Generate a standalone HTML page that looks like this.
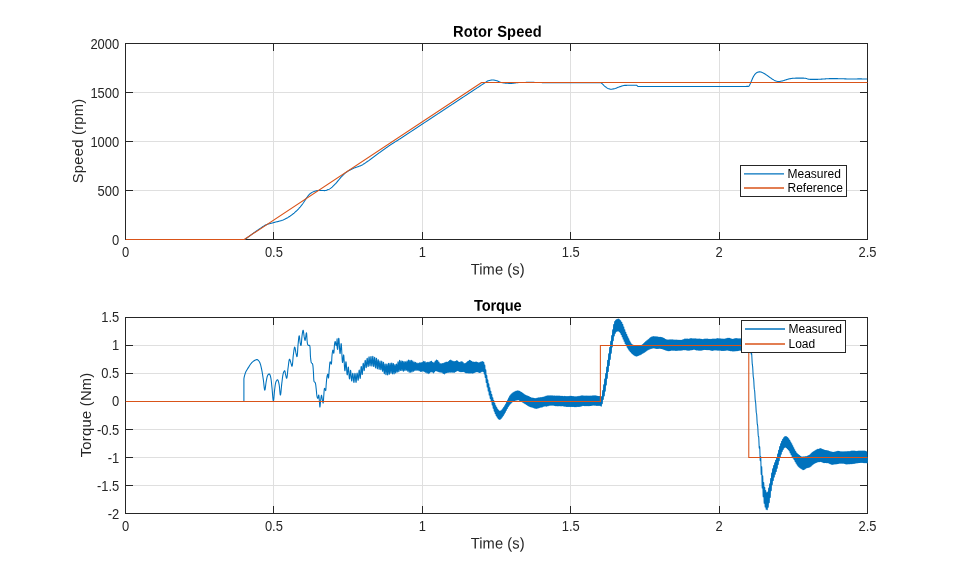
<!DOCTYPE html>
<html><head><meta charset="utf-8">
<title>Rotor Speed and Torque</title>
<style>
html,body{margin:0;padding:0;background:#fff;}
body{width:959px;height:577px;overflow:hidden;font-family:"Liberation Sans",sans-serif;}
svg{display:block;}
text{font-family:"Liberation Sans",sans-serif;fill:#262626;filter:grayscale(1);}
.tk{font-size:14px;}
.lb{font-size:14.67px;letter-spacing:0.2px;}
.yl{letter-spacing:0.3px;}
.ti{font-size:14.67px;font-weight:bold;fill:#000;letter-spacing:0.16px;}
.lg{font-size:12px;fill:#000;filter:grayscale(1);}
</style></head><body>
<svg width="959" height="577">
<rect width="959" height="577" fill="#fff"/>
<defs>
<clipPath id="c1"><rect x="125.5" y="43.0" width="742.5" height="197.0"/></clipPath>
<clipPath id="c2"><rect x="125.5" y="317.0" width="742.5" height="197.0"/></clipPath>
</defs>
<g shape-rendering="crispEdges">
<line x1="273.9" y1="43.5" x2="273.9" y2="239.5" stroke="#DFDFDF" stroke-width="1"/>
<line x1="422.3" y1="43.5" x2="422.3" y2="239.5" stroke="#DFDFDF" stroke-width="1"/>
<line x1="570.7" y1="43.5" x2="570.7" y2="239.5" stroke="#DFDFDF" stroke-width="1"/>
<line x1="719.1" y1="43.5" x2="719.1" y2="239.5" stroke="#DFDFDF" stroke-width="1"/>
<line x1="125.5" y1="190.5" x2="867.5" y2="190.5" stroke="#DFDFDF" stroke-width="1"/>
<line x1="125.5" y1="141.5" x2="867.5" y2="141.5" stroke="#DFDFDF" stroke-width="1"/>
<line x1="125.5" y1="92.5" x2="867.5" y2="92.5" stroke="#DFDFDF" stroke-width="1"/>
<line x1="273.9" y1="317.5" x2="273.9" y2="513.5" stroke="#DFDFDF" stroke-width="1"/>
<line x1="422.3" y1="317.5" x2="422.3" y2="513.5" stroke="#DFDFDF" stroke-width="1"/>
<line x1="570.7" y1="317.5" x2="570.7" y2="513.5" stroke="#DFDFDF" stroke-width="1"/>
<line x1="719.1" y1="317.5" x2="719.1" y2="513.5" stroke="#DFDFDF" stroke-width="1"/>
<line x1="125.5" y1="485.5" x2="867.5" y2="485.5" stroke="#DFDFDF" stroke-width="1"/>
<line x1="125.5" y1="457.5" x2="867.5" y2="457.5" stroke="#DFDFDF" stroke-width="1"/>
<line x1="125.5" y1="429.5" x2="867.5" y2="429.5" stroke="#DFDFDF" stroke-width="1"/>
<line x1="125.5" y1="401.5" x2="867.5" y2="401.5" stroke="#DFDFDF" stroke-width="1"/>
<line x1="125.5" y1="373.5" x2="867.5" y2="373.5" stroke="#DFDFDF" stroke-width="1"/>
<line x1="125.5" y1="345.5" x2="867.5" y2="345.5" stroke="#DFDFDF" stroke-width="1"/>
<rect x="125.5" y="43.5" width="742.0" height="196.0" fill="none" stroke="#262626" stroke-width="1"/>
<line x1="273.9" y1="239.5" x2="273.9" y2="232.0" stroke="#262626"/>
<line x1="273.9" y1="43.5" x2="273.9" y2="51.0" stroke="#262626"/>
<line x1="422.3" y1="239.5" x2="422.3" y2="232.0" stroke="#262626"/>
<line x1="422.3" y1="43.5" x2="422.3" y2="51.0" stroke="#262626"/>
<line x1="570.7" y1="239.5" x2="570.7" y2="232.0" stroke="#262626"/>
<line x1="570.7" y1="43.5" x2="570.7" y2="51.0" stroke="#262626"/>
<line x1="719.1" y1="239.5" x2="719.1" y2="232.0" stroke="#262626"/>
<line x1="719.1" y1="43.5" x2="719.1" y2="51.0" stroke="#262626"/>
<line x1="125.5" y1="190.5" x2="133.0" y2="190.5" stroke="#262626"/>
<line x1="867.5" y1="190.5" x2="860.0" y2="190.5" stroke="#262626"/>
<line x1="125.5" y1="141.5" x2="133.0" y2="141.5" stroke="#262626"/>
<line x1="867.5" y1="141.5" x2="860.0" y2="141.5" stroke="#262626"/>
<line x1="125.5" y1="92.5" x2="133.0" y2="92.5" stroke="#262626"/>
<line x1="867.5" y1="92.5" x2="860.0" y2="92.5" stroke="#262626"/>
<rect x="125.5" y="317.5" width="742.0" height="196.0" fill="none" stroke="#262626" stroke-width="1"/>
<line x1="273.9" y1="513.5" x2="273.9" y2="506.0" stroke="#262626"/>
<line x1="273.9" y1="317.5" x2="273.9" y2="325.0" stroke="#262626"/>
<line x1="422.3" y1="513.5" x2="422.3" y2="506.0" stroke="#262626"/>
<line x1="422.3" y1="317.5" x2="422.3" y2="325.0" stroke="#262626"/>
<line x1="570.7" y1="513.5" x2="570.7" y2="506.0" stroke="#262626"/>
<line x1="570.7" y1="317.5" x2="570.7" y2="325.0" stroke="#262626"/>
<line x1="719.1" y1="513.5" x2="719.1" y2="506.0" stroke="#262626"/>
<line x1="719.1" y1="317.5" x2="719.1" y2="325.0" stroke="#262626"/>
<line x1="125.5" y1="485.5" x2="133.0" y2="485.5" stroke="#262626"/>
<line x1="867.5" y1="485.5" x2="860.0" y2="485.5" stroke="#262626"/>
<line x1="125.5" y1="457.5" x2="133.0" y2="457.5" stroke="#262626"/>
<line x1="867.5" y1="457.5" x2="860.0" y2="457.5" stroke="#262626"/>
<line x1="125.5" y1="429.5" x2="133.0" y2="429.5" stroke="#262626"/>
<line x1="867.5" y1="429.5" x2="860.0" y2="429.5" stroke="#262626"/>
<line x1="125.5" y1="401.5" x2="133.0" y2="401.5" stroke="#262626"/>
<line x1="867.5" y1="401.5" x2="860.0" y2="401.5" stroke="#262626"/>
<line x1="125.5" y1="373.5" x2="133.0" y2="373.5" stroke="#262626"/>
<line x1="867.5" y1="373.5" x2="860.0" y2="373.5" stroke="#262626"/>
<line x1="125.5" y1="345.5" x2="133.0" y2="345.5" stroke="#262626"/>
<line x1="867.5" y1="345.5" x2="860.0" y2="345.5" stroke="#262626"/>
</g>
<g fill="none" stroke-linejoin="round" stroke-width="1.08">
<g clip-path="url(#c1)">
<polyline stroke="#0072BD" points="244.60,239.50 245.10,239.20 245.60,238.87 246.10,238.54 246.60,238.19 247.10,237.83 247.60,237.47 248.10,237.10 248.60,236.73 249.10,236.35 249.60,235.98 250.10,235.60 250.60,235.22 251.10,234.85 251.60,234.49 252.10,234.13 252.60,233.77 253.10,233.41 253.60,233.05 254.10,232.69 254.60,232.33 255.10,231.97 255.60,231.61 256.10,231.26 256.60,230.91 257.10,230.56 257.60,230.21 258.10,229.87 258.60,229.53 259.10,229.20 259.60,228.87 260.10,228.53 260.60,228.18 261.10,227.83 261.60,227.49 262.10,227.15 262.60,226.81 263.10,226.48 263.60,226.16 264.10,225.86 264.60,225.57 265.10,225.30 265.60,225.05 266.10,224.82 266.60,224.62 267.10,224.44 267.60,224.27 268.10,224.10 268.60,223.95 269.10,223.81 269.60,223.67 270.10,223.54 270.60,223.41 271.10,223.28 271.60,223.15 272.10,223.03 272.60,222.90 273.10,222.76 273.60,222.63 274.10,222.49 274.60,222.36 275.10,222.23 275.60,222.10 276.10,221.98 276.60,221.85 277.10,221.73 277.60,221.61 278.10,221.49 278.60,221.36 279.10,221.24 279.60,221.10 280.10,220.97 280.60,220.82 281.10,220.67 281.60,220.52 282.10,220.35 282.60,220.17 283.10,219.99 283.60,219.78 284.10,219.57 284.60,219.33 285.10,219.09 285.60,218.83 286.10,218.56 286.60,218.28 287.10,217.99 287.60,217.69 288.10,217.39 288.60,217.07 289.10,216.75 289.60,216.43 290.10,216.10 290.60,215.76 291.10,215.41 291.60,215.05 292.10,214.67 292.60,214.28 293.10,213.88 293.60,213.47 294.10,213.05 294.60,212.61 295.10,212.17 295.60,211.71 296.10,211.25 296.60,210.78 297.10,210.30 297.60,209.80 298.10,209.29 298.60,208.77 299.10,208.22 299.60,207.66 300.10,207.09 300.60,206.49 301.10,205.88 301.60,205.26 302.10,204.62 302.60,203.97 303.10,203.29 303.60,202.55 304.10,201.77 304.60,200.96 305.10,200.15 305.60,199.37 306.10,198.62 306.60,197.93 307.10,197.23 307.60,196.54 308.10,195.87 308.60,195.23 309.10,194.64 309.60,194.13 310.10,193.70 310.60,193.34 311.10,192.99 311.60,192.67 312.10,192.38 312.60,192.11 313.10,191.86 313.60,191.65 314.10,191.46 314.60,191.30 315.10,191.16 315.60,191.02 316.10,190.88 316.60,190.75 317.10,190.64 317.60,190.55 318.10,190.47 318.60,190.42 319.10,190.40 319.60,190.40 320.10,190.41 320.60,190.43 321.10,190.46 321.60,190.48 322.10,190.51 322.60,190.54 323.10,190.56 323.60,190.58 324.10,190.60 324.60,190.60 325.10,190.57 325.60,190.50 326.10,190.38 326.60,190.22 327.10,190.04 327.60,189.83 328.10,189.61 328.60,189.38 329.10,189.15 329.60,188.90 330.10,188.61 330.60,188.27 331.10,187.90 331.60,187.49 332.10,187.06 332.60,186.61 333.10,186.14 333.60,185.66 334.10,185.18 334.60,184.70 335.10,184.20 335.60,183.68 336.10,183.12 336.60,182.54 337.10,181.94 337.60,181.33 338.10,180.71 338.60,180.09 339.10,179.47 339.60,178.87 340.10,178.29 340.60,177.73 341.10,177.20 341.60,176.67 342.10,176.15 342.60,175.63 343.10,175.11 343.60,174.61 344.10,174.12 344.60,173.65 345.10,173.20 345.60,172.78 346.10,172.39 346.60,172.03 347.10,171.70 347.60,171.37 348.10,171.07 348.60,170.77 349.10,170.49 349.60,170.21 350.10,169.95 350.60,169.69 351.10,169.44 351.60,169.20 352.10,168.97 352.60,168.74 353.10,168.51 353.60,168.29 354.10,168.07 354.60,167.87 355.10,167.67 355.60,167.49 356.10,167.32 356.60,167.14 357.10,166.98 357.60,166.81 358.10,166.64 358.60,166.47 359.10,166.29 359.60,166.10 360.10,165.90 360.60,165.68 361.10,165.45 361.60,165.21 362.10,164.94 362.60,164.66 363.10,164.37 363.60,164.06 364.10,163.75 364.60,163.43 365.10,163.09 365.60,162.76 366.10,162.41 366.60,162.07 367.10,161.72 367.60,161.38 368.10,161.04 368.60,160.69 369.10,160.35 369.60,159.99 370.10,159.63 370.60,159.26 371.10,158.89 371.60,158.51 372.10,158.13 372.60,157.75 373.10,157.38 373.60,157.00 374.10,156.62 374.60,156.24 375.10,155.87 375.60,155.50 376.10,155.13 376.60,154.77 377.10,154.40 377.60,154.04 378.10,153.67 378.60,153.31 379.10,152.94 379.60,152.58 380.10,152.22 380.60,151.85 381.10,151.49 381.60,151.13 382.10,150.77 382.60,150.41 383.10,150.06 383.60,149.70 384.10,149.34 384.60,148.98 385.10,148.62 385.60,148.27 386.10,147.91 386.60,147.55 387.10,147.20 387.60,146.85 388.10,146.50 388.60,146.15 389.10,145.81 389.60,145.47 390.10,145.13 390.60,144.80 391.10,144.47 391.60,144.14 392.10,143.82 392.60,143.50 393.10,143.18 393.60,142.87 394.10,142.55 394.60,142.24 395.10,141.92 395.60,141.61 396.10,141.30 396.60,140.98 397.10,140.67 397.60,140.36 398.10,140.04 398.60,139.72 399.10,139.41 399.60,139.09 400.10,138.76 400.60,138.44 401.10,138.11 401.60,137.78 402.10,137.45 402.60,137.13 403.10,136.80 403.60,136.47 404.10,136.14 404.60,135.80 405.10,135.47 405.60,135.14 406.10,134.81 406.60,134.48 407.10,134.14 407.60,133.81 408.10,133.48 408.60,133.15 409.10,132.82 409.60,132.49 410.10,132.16 410.60,131.83 411.10,131.50 411.60,131.17 412.10,130.84 412.60,130.51 413.10,130.18 413.60,129.85 414.10,129.52 414.60,129.18 415.10,128.85 415.60,128.52 416.10,128.19 416.60,127.86 417.10,127.53 417.60,127.20 418.10,126.87 418.60,126.54 419.10,126.21 419.60,125.88 420.10,125.55 420.60,125.22 421.10,124.89 421.60,124.56 422.10,124.23 422.60,123.90 423.10,123.57 423.60,123.24 424.10,122.91 424.60,122.58 425.10,122.25 425.60,121.92 426.10,121.59 426.60,121.26 427.10,120.93 427.60,120.60 428.10,120.27 428.60,119.94 429.10,119.61 429.60,119.28 430.10,118.95 430.60,118.62 431.10,118.29 431.60,117.96 432.10,117.63 432.60,117.30 433.10,116.97 433.60,116.64 434.10,116.31 434.60,115.98 435.10,115.65 435.60,115.32 436.10,114.99 436.60,114.66 437.10,114.33 437.60,114.00 438.10,113.67 438.60,113.34 439.10,113.01 439.60,112.68 440.10,112.35 440.60,112.02 441.10,111.68 441.60,111.35 442.10,111.02 442.60,110.69 443.10,110.36 443.60,110.03 444.10,109.70 444.60,109.37 445.10,109.04 445.60,108.71 446.10,108.38 446.60,108.05 447.10,107.72 447.60,107.39 448.10,107.06 448.60,106.73 449.10,106.40 449.60,106.07 450.10,105.74 450.60,105.41 451.10,105.08 451.60,104.75 452.10,104.42 452.60,104.09 453.10,103.76 453.60,103.43 454.10,103.10 454.60,102.77 455.10,102.44 455.60,102.11 456.10,101.78 456.60,101.45 457.10,101.12 457.60,100.79 458.10,100.46 458.60,100.13 459.10,99.80 459.60,99.47 460.10,99.14 460.60,98.81 461.10,98.48 461.60,98.15 462.10,97.82 462.60,97.49 463.10,97.16 463.60,96.83 464.10,96.50 464.60,96.17 465.10,95.84 465.60,95.51 466.10,95.18 466.60,94.85 467.10,94.52 467.60,94.18 468.10,93.85 468.60,93.52 469.10,93.19 469.60,92.86 470.10,92.53 470.60,92.20 471.10,91.87 471.60,91.55 472.10,91.22 472.60,90.89 473.10,90.56 473.60,90.23 474.10,89.90 474.60,89.57 475.10,89.24 475.60,88.91 476.10,88.58 476.60,88.25 477.10,87.92 477.60,87.59 478.10,87.26 478.60,86.93 479.10,86.60 479.60,86.26 480.10,85.93 480.60,85.59 481.10,85.25 481.60,84.92 482.10,84.59 482.60,84.27 483.10,83.96 483.60,83.64 484.10,83.31 484.60,82.98 485.10,82.66 485.60,82.34 486.10,81.99 486.60,81.64 487.10,81.32 487.60,81.04 488.10,80.83 488.60,80.68 489.10,80.54 489.60,80.41 490.10,80.30 490.60,80.19 491.10,80.11 491.60,80.05 492.10,80.01 492.60,80.00 493.10,80.02 493.60,80.07 494.10,80.14 494.60,80.23 495.10,80.34 495.60,80.45 496.10,80.57 496.60,80.70 497.10,80.83 497.60,80.99 498.10,81.19 498.60,81.42 499.10,81.66 499.60,81.89 500.10,82.11 500.60,82.29 501.10,82.42 501.60,82.54 502.10,82.64 502.60,82.74 503.10,82.84 503.60,82.92 504.10,83.00 504.60,83.07 505.10,83.12 505.60,83.17 506.10,83.21 506.60,83.24 507.10,83.27 507.60,83.30 508.10,83.32 508.60,83.34 509.10,83.36 509.60,83.38 510.10,83.39 510.60,83.40 511.10,83.40 511.60,83.38 512.10,83.35 512.60,83.30 513.10,83.25 513.60,83.18 514.10,83.11 514.60,83.05 515.10,82.99 515.60,82.92 516.10,82.84 516.60,82.75 517.10,82.68 517.60,82.62 518.10,82.60 518.60,82.58 519.10,82.57 519.60,82.56 520.10,82.55 520.60,82.55 521.10,82.54 521.60,82.54 522.10,82.53 522.60,82.53 523.10,82.52 523.60,82.51 524.10,82.50 524.60,82.48 525.10,82.46 525.60,82.43 526.10,82.39 526.60,82.36 527.10,82.32 527.60,82.29 528.10,82.26 528.60,82.24 529.10,82.22 529.60,82.20 530.10,82.20 530.60,82.21 531.10,82.22 531.60,82.25 532.10,82.28 532.60,82.31 533.10,82.34 533.60,82.38 534.10,82.41 534.60,82.44 535.10,82.47 535.60,82.49 536.10,82.50 536.60,82.51 537.10,82.52 537.60,82.53 538.10,82.54 538.60,82.55 539.10,82.55 539.60,82.56 540.10,82.57 540.60,82.57 541.10,82.58 541.60,82.58 542.10,82.59 542.60,82.59 543.10,82.59 543.60,82.60 544.10,82.60 544.60,82.60 545.10,82.60 545.60,82.60 546.10,82.60 546.60,82.60 547.10,82.60 547.60,82.60 548.10,82.60 548.60,82.60 549.10,82.60 549.60,82.60 550.10,82.60 550.60,82.60 551.10,82.60 551.60,82.60 552.10,82.60 552.60,82.60 553.10,82.60 553.60,82.60 554.10,82.60 554.60,82.60 555.10,82.60 555.60,82.60 556.10,82.60 556.60,82.60 557.10,82.60 557.60,82.60 558.10,82.60 558.60,82.60 559.10,82.60 559.60,82.60 560.10,82.60 560.60,82.60 561.10,82.60 561.60,82.60 562.10,82.60 562.60,82.60 563.10,82.60 563.60,82.60 564.10,82.60 564.60,82.60 565.10,82.60 565.60,82.60 566.10,82.60 566.60,82.60 567.10,82.60 567.60,82.60 568.10,82.60 568.60,82.60 569.10,82.60 569.60,82.60 570.10,82.60 570.60,82.60 571.10,82.60 571.60,82.60 572.10,82.60 572.60,82.60 573.10,82.60 573.60,82.60 574.10,82.60 574.60,82.60 575.10,82.60 575.60,82.60 576.10,82.60 576.60,82.60 577.10,82.60 577.60,82.60 578.10,82.60 578.60,82.60 579.10,82.60 579.60,82.60 580.10,82.60 580.60,82.60 581.10,82.60 581.60,82.60 582.10,82.60 582.60,82.60 583.10,82.60 583.60,82.60 584.10,82.60 584.60,82.60 585.10,82.60 585.60,82.60 586.10,82.60 586.60,82.60 587.10,82.60 587.60,82.60 588.10,82.60 588.60,82.60 589.10,82.60 589.60,82.60 590.10,82.60 590.60,82.60 591.10,82.60 591.60,82.60 592.10,82.60 592.60,82.60 593.10,82.60 593.60,82.60 594.10,82.60 594.60,82.60 595.10,82.60 595.60,82.60 596.10,82.60 596.60,82.60 597.10,82.60 597.60,82.60 598.10,82.60 598.60,82.60 599.10,82.60 599.60,82.60 600.10,82.60 600.60,82.63 601.10,82.88 601.60,83.28 602.10,83.68 602.60,84.10 603.10,84.58 603.60,85.09 604.10,85.59 604.60,86.06 605.10,86.48 605.60,86.87 606.10,87.25 606.60,87.62 607.10,87.94 607.60,88.22 608.10,88.44 608.60,88.64 609.10,88.82 609.60,88.99 610.10,89.11 610.60,89.19 611.10,89.20 611.60,89.17 612.10,89.12 612.60,89.05 613.10,88.97 613.60,88.87 614.10,88.78 614.60,88.66 615.10,88.51 615.60,88.34 616.10,88.14 616.60,87.94 617.10,87.74 617.60,87.55 618.10,87.36 618.60,87.18 619.10,87.00 619.60,86.81 620.10,86.63 620.60,86.45 621.10,86.27 621.60,86.12 622.10,85.97 622.60,85.83 623.10,85.68 623.60,85.55 624.10,85.45 624.60,85.40 625.10,85.38 625.60,85.37 626.10,85.35 626.60,85.34 627.10,85.33 627.60,85.32 628.10,85.31 628.60,85.31 629.10,85.30 629.60,85.30 630.10,85.30 630.60,85.30 631.10,85.30 631.60,85.30 632.10,85.30 632.60,85.30 633.10,85.30 633.60,85.30 634.10,85.30 634.60,85.30 635.10,85.30 635.60,85.30 636.10,85.30 636.60,85.30 637.10,85.60 637.60,86.30 638.10,86.42 638.60,86.48 639.10,86.50 639.60,86.50 640.10,86.50 640.60,86.50 641.10,86.50 641.60,86.50 642.10,86.50 642.60,86.50 643.10,86.50 643.60,86.50 644.10,86.50 644.60,86.50 645.10,86.50 645.60,86.50 646.10,86.50 646.60,86.50 647.10,86.50 647.60,86.50 648.10,86.50 648.60,86.50 649.10,86.50 649.60,86.50 650.10,86.50 650.60,86.50 651.10,86.50 651.60,86.50 652.10,86.50 652.60,86.50 653.10,86.50 653.60,86.50 654.10,86.50 654.60,86.50 655.10,86.50 655.60,86.50 656.10,86.50 656.60,86.50 657.10,86.50 657.60,86.50 658.10,86.50 658.60,86.50 659.10,86.50 659.60,86.50 660.10,86.50 660.60,86.50 661.10,86.50 661.60,86.50 662.10,86.50 662.60,86.50 663.10,86.50 663.60,86.50 664.10,86.50 664.60,86.50 665.10,86.50 665.60,86.50 666.10,86.50 666.60,86.50 667.10,86.50 667.60,86.50 668.10,86.50 668.60,86.50 669.10,86.50 669.60,86.50 670.10,86.50 670.60,86.50 671.10,86.50 671.60,86.50 672.10,86.50 672.60,86.50 673.10,86.50 673.60,86.50 674.10,86.50 674.60,86.50 675.10,86.50 675.60,86.50 676.10,86.50 676.60,86.50 677.10,86.50 677.60,86.50 678.10,86.50 678.60,86.50 679.10,86.50 679.60,86.50 680.10,86.50 680.60,86.50 681.10,86.50 681.60,86.50 682.10,86.50 682.60,86.50 683.10,86.50 683.60,86.50 684.10,86.50 684.60,86.50 685.10,86.50 685.60,86.50 686.10,86.50 686.60,86.50 687.10,86.50 687.60,86.50 688.10,86.50 688.60,86.50 689.10,86.50 689.60,86.50 690.10,86.50 690.60,86.50 691.10,86.50 691.60,86.50 692.10,86.50 692.60,86.50 693.10,86.50 693.60,86.50 694.10,86.50 694.60,86.50 695.10,86.50 695.60,86.50 696.10,86.50 696.60,86.50 697.10,86.50 697.60,86.50 698.10,86.50 698.60,86.50 699.10,86.50 699.60,86.50 700.10,86.50 700.60,86.50 701.10,86.50 701.60,86.50 702.10,86.50 702.60,86.50 703.10,86.50 703.60,86.50 704.10,86.50 704.60,86.50 705.10,86.50 705.60,86.50 706.10,86.50 706.60,86.50 707.10,86.50 707.60,86.50 708.10,86.50 708.60,86.50 709.10,86.50 709.60,86.50 710.10,86.50 710.60,86.50 711.10,86.50 711.60,86.50 712.10,86.50 712.60,86.50 713.10,86.50 713.60,86.50 714.10,86.50 714.60,86.50 715.10,86.50 715.60,86.50 716.10,86.50 716.60,86.50 717.10,86.50 717.60,86.49 718.10,86.49 718.60,86.49 719.10,86.49 719.60,86.49 720.10,86.49 720.60,86.49 721.10,86.49 721.60,86.49 722.10,86.49 722.60,86.49 723.10,86.49 723.60,86.49 724.10,86.49 724.60,86.49 725.10,86.49 725.60,86.48 726.10,86.48 726.60,86.48 727.10,86.48 727.60,86.48 728.10,86.48 728.60,86.48 729.10,86.48 729.60,86.48 730.10,86.48 730.60,86.47 731.10,86.47 731.60,86.47 732.10,86.47 732.60,86.47 733.10,86.47 733.60,86.47 734.10,86.47 734.60,86.46 735.10,86.46 735.60,86.46 736.10,86.46 736.60,86.46 737.10,86.46 737.60,86.45 738.10,86.45 738.60,86.45 739.10,86.45 739.60,86.45 740.10,86.44 740.60,86.44 741.10,86.44 741.60,86.44 742.10,86.44 742.60,86.43 743.10,86.43 743.60,86.43 744.10,86.43 744.60,86.42 745.10,86.42 745.60,86.42 746.10,86.42 746.60,86.41 747.10,86.41 747.60,86.41 748.10,86.40 748.60,86.40 749.10,86.08 749.60,85.13 750.10,84.08 750.60,82.92 751.10,81.78 751.60,80.62 752.10,79.44 752.60,78.31 753.10,77.31 753.60,76.36 754.10,75.47 754.60,74.69 755.10,74.10 755.60,73.59 756.10,73.14 756.60,72.76 757.10,72.46 757.60,72.27 758.10,72.12 758.60,71.99 759.10,71.89 759.60,71.85 760.10,71.88 760.60,71.97 761.10,72.10 761.60,72.27 762.10,72.43 762.60,72.63 763.10,72.88 763.60,73.15 764.10,73.45 764.60,73.76 765.10,74.06 765.60,74.38 766.10,74.72 766.60,75.07 767.10,75.43 767.60,75.80 768.10,76.16 768.60,76.52 769.10,76.87 769.60,77.22 770.10,77.57 770.60,77.93 771.10,78.28 771.60,78.62 772.10,78.95 772.60,79.26 773.10,79.56 773.60,79.85 774.10,80.14 774.60,80.41 775.10,80.66 775.60,80.87 776.10,81.03 776.60,81.17 777.10,81.30 777.60,81.41 778.10,81.48 778.60,81.50 779.10,81.48 779.60,81.43 780.10,81.36 780.60,81.27 781.10,81.18 781.60,81.08 782.10,80.98 782.60,80.87 783.10,80.73 783.60,80.58 784.10,80.41 784.60,80.25 785.10,80.08 785.60,79.92 786.10,79.77 786.60,79.62 787.10,79.47 787.60,79.31 788.10,79.16 788.60,79.02 789.10,78.89 789.60,78.78 790.10,78.68 790.60,78.60 791.10,78.51 791.60,78.44 792.10,78.37 792.60,78.30 793.10,78.25 793.60,78.22 794.10,78.20 794.60,78.18 795.10,78.17 795.60,78.16 796.10,78.14 796.60,78.13 797.10,78.13 797.60,78.12 798.10,78.11 798.60,78.11 799.10,78.10 799.60,78.10 800.10,78.10 800.60,78.10 801.10,78.10 801.60,78.11 802.10,78.12 802.60,78.13 803.10,78.14 803.60,78.15 804.10,78.17 804.60,78.18 805.10,78.21 805.60,78.29 806.10,78.43 806.60,78.60 807.10,78.78 807.60,78.93 808.10,79.09 808.60,79.24 809.10,79.30 809.60,79.32 810.10,79.34 810.60,79.35 811.10,79.36 811.60,79.37 812.10,79.38 812.60,79.39 813.10,79.39 813.60,79.40 814.10,79.40 814.60,79.40 815.10,79.40 815.60,79.40 816.10,79.39 816.60,79.37 817.10,79.36 817.60,79.34 818.10,79.31 818.60,79.29 819.10,79.26 819.60,79.23 820.10,79.20 820.60,79.17 821.10,79.15 821.60,79.12 822.10,79.10 822.60,79.07 823.10,79.04 823.60,79.01 824.10,78.97 824.60,78.94 825.10,78.90 825.60,78.86 826.10,78.82 826.60,78.79 827.10,78.75 827.60,78.72 828.10,78.69 828.60,78.67 829.10,78.64 829.60,78.62 830.10,78.61 830.60,78.60 831.10,78.60 831.60,78.60 832.10,78.60 832.60,78.60 833.10,78.61 833.60,78.61 834.10,78.62 834.60,78.62 835.10,78.63 835.60,78.63 836.10,78.64 836.60,78.65 837.10,78.65 837.60,78.66 838.10,78.67 838.60,78.68 839.10,78.69 839.60,78.69 840.10,78.70 840.60,78.71 841.10,78.72 841.60,78.74 842.10,78.76 842.60,78.77 843.10,78.79 843.60,78.81 844.10,78.83 844.60,78.85 845.10,78.87 845.60,78.89 846.10,78.91 846.60,78.93 847.10,78.95 847.60,78.96 848.10,78.98 848.60,78.99 849.10,78.99 849.60,79.00 850.10,79.00 850.60,79.00 851.10,79.00 851.60,78.99 852.10,78.99 852.60,78.98 853.10,78.98 853.60,78.97 854.10,78.96 854.60,78.96 855.10,78.95 855.60,78.94 856.10,78.93 856.60,78.93 857.10,78.92 857.60,78.91 858.10,78.91 858.60,78.91 859.10,78.90 859.60,78.90 860.10,78.90 860.60,78.90 861.10,78.91 861.60,78.91 862.10,78.92 862.60,78.93 863.10,78.94 863.60,78.96 864.10,78.97 864.60,78.99 865.10,79.00 865.60,79.02 866.10,79.04 866.60,79.06 867.10,79.08"/>
<polyline stroke="#D95319" points="125.50,239.50 244.22,239.50 481.66,82.50 867.50,82.50"/>
</g>
<g clip-path="url(#c2)">
<polyline stroke="#0072BD" points="243.90,401.50 243.90,379.00 243.98,378.39 244.07,377.79 244.18,377.19 244.31,376.59 244.45,376.01 244.60,375.43 244.77,374.85 244.94,374.28 245.12,373.72 245.31,373.16 245.51,372.61 245.73,372.06 245.99,371.52 246.26,370.99 246.56,370.46 246.87,369.94 247.19,369.43 247.52,368.91 247.85,368.40 248.17,367.90 248.49,367.39 248.82,366.88 249.14,366.35 249.47,365.83 249.80,365.30 250.14,364.78 250.49,364.27 250.85,363.78 251.22,363.30 251.61,362.85 252.00,362.43 252.42,362.04 252.85,361.68 253.33,361.31 253.85,360.93 254.41,360.57 254.97,360.23 255.54,359.95 256.09,359.74 256.62,359.62 257.12,359.62 257.63,359.84 258.14,360.23 258.62,360.72 259.04,361.24 259.37,361.75 259.63,362.22 259.86,362.72 260.08,363.25 260.28,363.81 260.46,364.38 260.63,364.97 260.79,365.57 260.94,366.18 261.08,366.80 261.22,367.41 261.35,368.02 261.48,368.62 261.60,369.21 261.73,369.80 261.84,370.38 261.96,370.97 262.07,371.56 262.17,372.15 262.27,372.74 262.37,373.33 262.46,373.93 262.56,374.52 262.65,375.11 262.74,375.71 262.83,376.30 262.91,376.90 263.00,377.49 263.09,378.09 263.18,378.68 263.27,379.28 263.36,379.88 263.44,380.54 263.53,381.25 263.62,382.00 263.70,382.77 263.78,383.56 263.86,384.35 263.94,385.13 264.03,385.90 264.11,386.63 264.19,387.33 264.27,387.97 264.35,388.55 264.43,389.05 264.52,389.47 264.60,389.79 264.69,390.00 264.78,390.10 264.87,390.05 264.96,389.87 265.05,389.56 265.14,389.13 265.23,388.61 265.32,388.00 265.41,387.33 265.50,386.61 265.60,385.85 265.70,385.06 265.80,384.28 265.90,383.50 266.01,382.74 266.12,382.02 266.23,381.36 266.35,380.76 266.46,380.15 266.57,379.54 266.69,378.91 266.81,378.29 266.93,377.67 267.08,377.08 267.24,376.50 267.42,375.95 267.63,375.45 267.88,374.98 268.32,374.46 268.85,374.04 269.26,373.91 269.58,374.12 269.87,374.59 270.13,375.22 270.36,375.94 270.55,376.66 270.70,377.30 270.82,377.87 270.92,378.45 271.02,379.03 271.11,379.62 271.19,380.21 271.27,380.80 271.34,381.40 271.41,382.00 271.47,382.61 271.53,383.21 271.59,383.81 271.64,384.42 271.70,385.02 271.76,385.62 271.82,386.23 271.89,386.82 271.96,387.44 272.03,388.10 272.09,388.80 272.16,389.53 272.23,390.28 272.29,391.06 272.35,391.85 272.42,392.64 272.48,393.43 272.54,394.22 272.61,395.00 272.67,395.75 272.73,396.48 272.79,397.17 272.86,397.83 272.92,398.44 272.98,399.00 273.04,399.50 273.11,399.93 273.17,400.29 273.23,400.58 273.30,400.77 273.36,400.88 273.43,400.89 273.49,400.79 273.55,400.59 273.62,400.29 273.68,399.91 273.74,399.45 273.80,398.92 273.86,398.33 273.92,397.68 273.98,396.99 274.05,396.26 274.11,395.51 274.17,394.73 274.24,393.94 274.31,393.14 274.38,392.35 274.45,391.57 274.52,390.81 274.60,390.08 274.67,389.39 274.75,388.74 274.84,388.14 274.92,387.53 274.99,386.92 275.07,386.31 275.15,385.69 275.24,385.08 275.34,384.47 275.44,383.88 275.56,383.29 275.69,382.72 275.85,382.18 276.02,381.65 276.32,381.06 276.74,380.45 277.17,379.97 277.52,379.80 277.78,379.96 278.03,380.36 278.27,380.94 278.48,381.63 278.67,382.37 278.83,383.11 278.97,383.77 279.09,384.37 279.20,385.03 279.30,385.73 279.39,386.47 279.47,387.24 279.56,388.03 279.63,388.82 279.70,389.61 279.77,390.39 279.83,391.14 279.90,391.85 279.96,392.52 280.02,393.13 280.08,393.67 280.14,394.13 280.20,394.51 280.27,394.79 280.34,394.95 280.41,395.00 280.48,394.93 280.55,394.75 280.62,394.48 280.69,394.12 280.76,393.68 280.83,393.17 280.90,392.60 280.97,391.97 281.04,391.29 281.11,390.57 281.17,389.82 281.24,389.05 281.31,388.26 281.38,387.47 281.45,386.68 281.53,385.89 281.60,385.13 281.68,384.39 281.75,383.68 281.83,383.02 281.91,382.41 281.99,381.81 282.07,381.21 282.14,380.61 282.21,380.00 282.28,379.39 282.35,378.79 282.43,378.18 282.50,377.58 282.59,376.98 282.67,376.38 282.77,375.79 282.87,375.20 282.99,374.62 283.11,374.04 283.25,373.48 283.39,372.92 283.62,372.29 283.93,371.60 284.27,371.01 284.55,370.71 284.75,370.79 284.91,371.13 285.06,371.68 285.19,372.36 285.32,373.11 285.45,373.88 285.59,374.61 285.74,375.24 285.90,375.93 286.08,376.70 286.25,377.42 286.42,377.98 286.56,378.28 286.68,378.27 286.79,378.12 286.89,377.86 286.98,377.49 287.07,377.03 287.15,376.49 287.23,375.88 287.31,375.21 287.39,374.50 287.46,373.74 287.53,372.97 287.60,372.18 287.68,371.39 287.75,370.61 287.83,369.85 287.91,369.11 288.00,368.43 288.09,367.79 288.18,367.17 288.27,366.49 288.36,365.75 288.45,364.98 288.54,364.20 288.64,363.41 288.73,362.65 288.83,361.91 288.93,361.24 289.04,360.63 289.15,360.10 289.27,359.68 289.39,359.38 289.53,359.22 289.67,359.23 289.84,359.50 290.03,359.99 290.23,360.63 290.44,361.36 290.65,362.11 290.86,362.82 291.04,363.44 291.23,364.14 291.42,364.90 291.61,365.60 291.77,366.11 291.90,366.30 292.01,366.24 292.11,366.07 292.21,365.79 292.29,365.43 292.37,364.98 292.45,364.45 292.52,363.86 292.59,363.22 292.66,362.52 292.72,361.79 292.78,361.03 292.84,360.25 292.91,359.46 292.97,358.67 293.03,357.88 293.10,357.11 293.17,356.37 293.25,355.66 293.33,355.00 293.42,354.38 293.51,353.73 293.60,353.01 293.70,352.25 293.80,351.47 293.90,350.68 294.00,349.92 294.11,349.21 294.22,348.56 294.33,348.01 294.44,347.56 294.55,347.26 294.66,347.11 294.78,347.15 294.89,347.37 295.01,347.76 295.13,348.28 295.25,348.91 295.37,349.62 295.49,350.37 295.62,351.15 295.75,351.93 295.88,352.67 296.02,353.35 296.16,353.97 296.33,354.69 296.50,355.46 296.67,356.13 296.82,356.58 296.92,356.70 297.01,356.61 297.09,356.43 297.16,356.14 297.23,355.77 297.29,355.32 297.35,354.80 297.41,354.22 297.46,353.58 297.51,352.89 297.56,352.17 297.60,351.41 297.65,350.64 297.69,349.85 297.74,349.05 297.79,348.26 297.83,347.48 297.88,346.71 297.94,345.98 297.99,345.28 298.06,344.62 298.12,344.00 298.19,343.35 298.26,342.63 298.33,341.87 298.41,341.08 298.49,340.29 298.56,339.51 298.64,338.76 298.72,338.05 298.81,337.41 298.89,336.85 298.97,336.39 299.05,336.06 299.13,335.85 299.22,335.80 299.30,335.94 299.38,336.25 299.45,336.71 299.53,337.28 299.61,337.95 299.69,338.69 299.77,339.47 299.86,340.26 299.95,341.04 300.05,341.77 300.15,342.44 300.27,343.08 300.41,343.83 300.57,344.58 300.73,345.21 300.86,345.57 300.96,345.57 301.05,345.43 301.13,345.16 301.21,344.79 301.28,344.33 301.34,343.78 301.40,343.16 301.46,342.48 301.52,341.75 301.58,340.99 301.63,340.21 301.69,339.42 301.75,338.63 301.82,337.85 301.89,337.09 301.96,336.38 302.04,335.71 302.13,335.10 302.23,334.41 302.34,333.66 302.46,332.87 302.58,332.11 302.71,331.42 302.83,330.84 302.95,330.42 303.06,330.21 303.17,330.24 303.27,330.45 303.36,330.81 303.46,331.30 303.55,331.90 303.64,332.58 303.73,333.32 303.82,334.10 303.91,334.89 304.01,335.66 304.11,336.40 304.22,337.09 304.34,337.71 304.48,338.43 304.62,339.20 304.77,339.88 304.92,340.31 305.05,340.38 305.17,340.16 305.29,339.73 305.42,339.12 305.53,338.38 305.65,337.54 305.77,336.67 305.88,335.79 305.98,334.95 306.09,334.19 306.18,333.56 306.27,333.09 306.36,332.84 306.44,332.82 306.51,332.94 306.57,333.18 306.62,333.53 306.67,333.98 306.71,334.50 306.76,335.10 306.80,335.76 306.84,336.47 306.88,337.22 306.92,338.00 306.97,338.79 307.02,339.58 307.08,340.37 307.14,341.15 307.22,341.89 307.30,342.59 307.40,343.24 307.51,343.83 307.69,344.51 307.97,345.14 308.33,345.40 309.02,345.40 309.51,345.40 309.63,345.46 309.73,345.63 309.82,345.90 309.90,346.26 309.96,346.70 310.02,347.21 310.07,347.78 310.11,348.41 310.15,349.09 310.18,349.81 310.21,350.56 310.24,351.34 310.27,352.13 310.29,352.92 310.32,353.72 310.36,354.50 310.39,355.27 310.44,356.01 310.49,356.72 310.54,357.38 310.61,358.00 310.68,358.61 310.74,359.24 310.81,359.87 310.89,360.50 310.98,361.11 311.09,361.70 311.22,362.25 311.38,362.75 311.76,363.17 312.31,363.55 312.56,363.99 312.68,364.49 312.78,365.02 312.88,365.57 312.96,366.16 313.02,366.76 313.08,367.38 313.13,368.01 313.18,368.65 313.22,369.29 313.26,369.93 313.30,370.56 313.35,371.19 313.39,371.80 313.44,372.40 313.48,373.01 313.51,373.63 313.54,374.25 313.56,374.88 313.59,375.51 313.61,376.13 313.63,376.76 313.66,377.37 313.69,377.98 313.72,378.58 313.76,379.17 313.81,379.74 313.87,380.30 313.94,380.83 314.04,381.35 314.41,381.81 314.91,382.26 315.27,382.73 315.43,383.25 315.55,383.80 315.66,384.37 315.75,384.96 315.83,385.57 315.90,386.18 315.96,386.80 316.03,387.43 316.09,388.04 316.16,388.65 316.23,389.25 316.30,389.85 316.36,390.45 316.42,391.05 316.47,391.66 316.52,392.26 316.57,392.87 316.63,393.47 316.69,394.07 316.75,394.67 316.83,395.26 316.92,395.84 317.02,396.42 317.15,397.00 317.39,397.72 317.67,398.29 317.88,398.35 318.06,397.90 318.24,397.14 318.39,396.28 318.53,395.52 318.65,395.06 318.75,395.04 318.84,395.31 318.92,395.79 319.00,396.42 319.07,397.15 319.13,397.93 319.19,398.72 319.25,399.46 319.31,400.10 319.37,400.76 319.42,401.49 319.47,402.26 319.52,403.06 319.57,403.85 319.62,404.60 319.66,405.30 319.71,405.91 319.76,406.41 319.81,406.77 319.87,406.97 319.93,406.98 319.99,406.80 320.05,406.45 320.11,405.96 320.17,405.36 320.24,404.68 320.30,403.93 320.37,403.14 320.45,402.35 320.52,401.57 320.60,400.84 320.68,400.17 320.76,399.54 320.85,398.81 320.95,398.03 321.05,397.25 321.15,396.54 321.26,395.94 321.37,395.51 321.48,395.31 321.58,395.38 321.69,395.71 321.80,396.24 321.91,396.90 322.02,397.66 322.13,398.44 322.25,399.20 322.37,399.87 322.51,400.52 322.66,401.29 322.81,402.04 322.95,402.64 323.07,402.97 323.15,402.96 323.22,402.76 323.29,402.41 323.35,401.94 323.40,401.35 323.45,400.68 323.50,399.95 323.54,399.18 323.58,398.38 323.63,397.59 323.68,396.82 323.73,396.10 323.79,395.44 323.85,394.81 323.90,394.11 323.95,393.35 324.00,392.56 324.06,391.77 324.11,391.00 324.17,390.28 324.24,389.63 324.31,389.08 324.40,388.66 324.49,388.39 324.60,388.30 324.80,388.65 325.09,389.40 325.38,390.17 325.58,390.59 325.68,390.52 325.76,390.24 325.83,389.79 325.89,389.21 325.94,388.53 325.98,387.77 326.03,386.98 326.07,386.19 326.12,385.43 326.17,384.73 326.23,384.12 326.28,383.52 326.33,382.92 326.38,382.32 326.43,381.72 326.48,381.12 326.53,380.52 326.59,379.92 326.65,379.32 326.71,378.73 326.78,378.13 326.86,377.54 326.94,376.95 327.05,376.35 327.20,375.61 327.39,374.88 327.58,374.35 327.73,374.21 327.86,374.56 327.98,375.24 328.09,376.09 328.19,376.95 328.28,377.66 328.37,378.06 328.45,378.07 328.52,377.91 328.59,377.61 328.65,377.21 328.71,376.70 328.76,376.11 328.81,375.45 328.86,374.73 328.92,373.97 328.97,373.19 329.02,372.39 329.07,371.60 329.12,370.83 329.18,370.09 329.24,369.40 329.30,368.77 329.37,368.12 329.43,367.40 329.49,366.63 329.55,365.84 329.61,365.05 329.67,364.29 329.74,363.59 329.82,362.97 329.91,362.46 330.01,362.07 330.11,361.85 330.24,361.83 330.48,362.32 330.77,363.12 331.05,363.83 331.21,364.10 331.31,364.01 331.39,363.78 331.46,363.44 331.53,362.98 331.58,362.43 331.63,361.81 331.68,361.12 331.72,360.39 331.76,359.61 331.80,358.82 331.84,358.03 331.88,357.24 331.93,356.48 331.99,355.76 332.05,355.09 332.13,354.47 332.21,353.77 332.30,353.00 332.40,352.21 332.51,351.48 332.62,350.84 332.73,350.37 332.85,350.12 332.98,350.21 333.14,350.76 333.31,351.58 333.48,352.42 333.62,353.04 333.72,353.19 333.80,353.08 333.87,352.84 333.93,352.47 333.99,352.00 334.04,351.44 334.08,350.80 334.12,350.11 334.16,349.36 334.20,348.59 334.25,347.79 334.30,347.00 334.35,346.22 334.41,345.46 334.48,344.75 334.56,344.09 334.66,343.46 334.80,342.71 334.97,342.00 335.14,341.55 335.27,341.58 335.40,342.04 335.53,342.79 335.65,343.66 335.77,344.49 335.88,345.12 335.99,345.40 336.10,345.37 336.21,345.24 336.31,345.03 336.42,344.72 336.52,344.29 336.62,343.76 336.72,343.10 336.81,342.31 336.90,341.39 336.99,340.32 337.08,339.10 337.10,338.80 337.10,346.13 337.21,347.35 337.32,348.37 337.43,349.09 337.54,349.42 337.65,349.32 337.76,348.77 337.87,347.79 337.98,346.45 338.09,344.85 338.20,343.26 338.31,341.79 338.42,340.44 338.53,339.33 338.64,338.58 338.75,338.26 338.86,338.45 338.97,339.15 339.08,340.35 339.19,341.97 339.30,343.92 339.41,346.06 339.52,348.12 339.63,350.00 339.74,351.56 339.85,352.72 339.96,353.40 340.07,353.58 340.18,353.30 340.29,352.60 340.40,351.56 340.51,350.28 340.62,348.89 340.73,347.26 340.84,345.75 340.95,344.56 341.06,343.83 341.17,343.63 341.28,344.02 341.39,344.98 341.50,346.48 341.61,348.42 341.72,350.67 341.83,353.10 341.94,355.35 342.05,357.40 342.16,359.20 342.27,360.67 342.38,361.72 342.49,362.32 342.60,362.46 342.71,362.19 342.82,361.55 342.93,360.64 343.04,359.55 343.15,358.23 343.26,356.94 343.37,355.88 343.48,355.16 343.59,354.88 343.70,355.11 343.81,355.86 343.92,357.08 344.03,358.71 344.14,360.65 344.25,362.75 344.36,364.79 344.47,366.70 344.58,368.36 344.69,369.64 344.80,370.45 344.91,370.75 345.02,370.52 345.13,369.81 345.24,368.72 345.35,367.38 345.46,365.93 345.57,364.48 345.68,363.23 345.79,362.31 345.90,361.80 346.01,361.77 346.12,362.25 346.23,363.19 346.34,364.54 346.45,366.18 346.56,368.00 346.67,369.79 346.78,371.43 346.89,372.82 347.00,373.89 347.11,374.58 347.22,374.84 347.33,374.69 347.44,374.17 347.55,373.34 347.66,372.30 347.77,371.15 347.88,369.83 347.99,368.64 348.10,367.71 348.21,367.15 348.32,367.03 348.43,367.38 348.54,368.22 348.65,369.48 348.76,371.09 348.87,372.91 348.98,374.55 349.09,376.00 349.20,377.24 349.31,378.18 349.42,378.73 349.53,378.86 349.64,378.58 349.75,377.93 349.86,376.97 349.97,375.81 350.08,374.41 350.19,372.89 350.30,371.63 350.41,370.74 350.52,370.33 350.63,370.43 350.74,371.03 350.85,372.07 350.96,373.43 351.07,375.00 351.18,376.57 351.29,377.97 351.40,379.21 351.51,380.17 351.62,380.77 351.73,380.96 351.84,380.72 351.95,380.08 352.06,379.11 352.17,377.90 352.28,376.61 352.39,375.45 352.50,374.45 352.61,373.73 352.72,373.35 352.83,373.34 352.94,373.72 353.05,374.44 353.16,375.45 353.27,376.67 353.38,378.05 353.49,379.51 353.60,380.79 353.71,381.74 353.82,382.27 353.93,382.34 354.04,381.95 354.15,381.12 354.26,379.96 354.37,378.58 354.48,377.15 354.59,375.81 354.70,374.65 354.81,373.81 354.92,373.39 355.03,373.42 355.14,373.92 355.25,374.81 355.36,376.01 355.47,377.37 355.58,378.84 355.69,380.24 355.80,381.39 355.91,382.14 356.02,382.41 356.13,382.15 356.24,381.40 356.35,380.21 356.46,378.71 356.57,377.08 356.68,375.81 356.79,374.69 356.90,373.84 357.01,373.33 357.12,373.19 357.23,373.42 357.34,374.00 357.45,374.86 357.56,375.90 357.67,377.16 357.78,378.45 357.89,379.47 358.00,380.11 358.11,380.30 358.22,380.02 358.33,379.31 358.44,378.22 358.55,376.87 358.66,375.38 358.77,373.81 358.88,372.34 358.99,371.15 359.10,370.36 359.21,370.07 359.32,370.33 359.43,371.11 359.54,372.31 359.65,373.81 359.76,375.25 359.87,376.53 359.98,377.57 360.09,378.20 360.20,378.33 360.31,377.90 360.42,376.93 360.53,375.49 360.64,373.72 360.75,371.78 360.86,369.86 360.97,368.25 361.08,367.09 361.19,366.49 361.30,366.47 361.41,367.00 361.52,367.97 361.63,369.25 361.74,370.67 361.85,372.12 361.96,373.33 362.07,374.16 362.18,374.48 362.29,374.23 362.40,373.42 362.51,372.13 362.62,370.46 362.73,368.60 362.84,366.91 362.95,365.40 363.06,364.24 363.17,363.53 363.28,363.33 363.39,363.63 363.50,364.36 363.61,365.40 363.72,366.60 363.83,368.04 363.94,369.30 364.05,370.20 364.16,370.59 364.27,370.41 364.38,369.66 364.49,368.40 364.60,366.78 364.71,364.96 364.82,363.45 364.93,362.13 365.04,361.11 365.15,360.49 365.26,360.33 365.37,360.63 365.48,361.35 365.59,362.38 365.70,363.60 365.81,365.07 365.92,366.34 366.03,367.24 366.14,367.66 366.25,367.53 366.36,366.86 366.47,365.74 366.58,364.30 366.69,362.72 366.80,361.17 366.91,359.81 367.02,358.81 367.13,358.29 367.24,358.34 367.35,358.95 367.46,360.07 367.57,361.54 367.68,363.11 367.79,364.49 367.90,365.61 368.01,366.31 368.12,366.51 368.23,366.17 368.34,365.33 368.45,364.10 368.56,362.62 368.67,360.84 368.78,359.10 368.89,357.74 369.00,356.95 369.11,356.81 369.22,357.36 369.33,358.50 369.44,360.09 369.55,361.89 369.66,363.35 369.77,364.61 369.88,365.51 369.99,365.92 370.10,365.78 370.21,365.09 370.32,363.94 370.43,362.46 370.54,360.73 370.65,358.99 370.76,357.58 370.87,356.71 370.98,356.48 371.09,356.93 371.20,358.00 371.31,359.56 371.42,361.39 371.53,363.05 371.64,364.51 371.75,365.56 371.86,366.06 371.97,365.93 372.08,365.18 372.19,363.92 372.30,362.32 372.41,360.50 372.52,358.70 372.63,357.29 372.74,356.46 372.85,356.34 372.96,356.94 373.07,358.20 373.18,359.93 373.29,361.88 373.40,363.63 373.51,365.11 373.62,366.12 373.73,366.54 373.84,366.30 373.95,365.45 374.06,364.11 374.17,362.48 374.28,360.68 374.39,359.06 374.50,357.89 374.61,357.35 374.72,357.53 374.83,358.39 374.94,359.83 375.05,361.65 375.16,363.58 375.27,365.38 375.38,366.82 375.49,367.70 375.60,367.89 375.71,367.35 375.82,366.15 375.93,364.49 376.04,362.60 376.15,360.79 376.26,359.32 376.37,358.43 376.48,358.25 376.59,358.82 376.70,360.09 376.81,361.85 376.92,363.87 377.03,365.80 377.14,367.39 377.25,368.43 377.36,368.76 377.47,368.37 377.58,367.33 377.69,365.81 377.80,364.06 377.91,362.31 378.02,360.87 378.13,359.97 378.24,359.73 378.35,360.19 378.46,361.26 378.57,362.79 378.68,364.55 378.79,366.35 378.90,367.89 379.01,368.94 379.12,369.35 379.23,369.08 379.34,368.18 379.45,366.81 379.56,365.18 379.67,363.58 379.78,362.21 379.89,361.30 380.00,360.99 380.11,361.35 380.22,362.36 380.33,363.88 380.44,365.70 380.55,367.30 380.66,368.62 380.77,369.48 380.88,369.76 380.99,369.45 381.10,368.61 381.21,367.40 381.32,365.93 381.43,364.01 381.54,362.41 381.65,361.39 381.76,361.15 381.87,361.76 381.98,363.15 382.09,365.11 382.20,367.18 382.31,368.79 382.42,370.13 382.53,371.00 382.64,371.25 382.75,370.82 382.86,369.77 382.97,368.26 383.08,366.33 383.19,364.34 383.30,362.88 383.41,362.18 383.52,362.39 383.63,363.46 383.74,365.23 383.85,367.42 383.96,369.61 384.07,371.57 384.18,373.01 384.29,373.68 384.40,373.47 384.51,372.40 384.62,370.65 384.73,368.52 384.84,366.62 384.95,365.08 385.06,364.17 385.17,364.01 385.28,364.64 385.39,365.94 385.50,367.69 385.61,369.79 385.72,372.02 385.83,373.75 385.94,374.67 386.05,374.64 386.16,373.64 386.27,371.83 386.38,369.52 386.49,367.48 386.60,365.79 386.71,364.60 386.82,364.13 386.93,364.47 387.04,365.56 387.15,367.23 387.26,369.30 387.37,371.73 387.48,373.68 387.59,374.79 387.70,374.86 387.81,373.87 387.92,371.97 388.03,369.49 388.14,367.18 388.25,365.26 388.36,363.92 388.47,363.37 388.58,363.72 388.69,364.89 388.80,366.68 388.91,368.85 389.02,371.29 389.13,373.19 389.24,374.21 389.35,374.18 389.46,373.09 389.57,371.17 389.68,368.74 389.79,366.58 389.90,364.82 390.01,363.65 390.12,363.27 390.23,363.73 390.34,364.92 390.45,366.65 390.56,368.72 390.67,370.88 390.78,372.49 390.89,373.27 391.00,373.08 391.11,371.95 391.22,370.06 391.33,367.75 391.44,365.79 391.55,364.16 391.66,363.17 391.77,363.00 391.88,363.69 391.99,365.13 392.10,367.05 392.21,369.43 392.32,371.69 392.43,373.26 392.54,373.83 392.65,373.28 392.76,371.72 392.87,369.44 392.98,367.10 393.09,365.26 393.20,363.96 393.31,363.43 393.42,363.78 393.53,364.92 393.64,366.66 393.75,368.75 393.86,371.13 393.97,372.93 394.08,373.84 394.19,373.73 394.30,372.66 394.41,370.89 394.52,368.77 394.63,366.98 394.74,365.53 394.85,364.68 394.96,364.62 395.07,365.35 395.18,366.75 395.29,368.58 395.40,370.42 395.51,371.90 395.62,372.77 395.73,372.89 395.84,372.25 395.95,371.00 396.06,369.37 396.17,367.45 396.28,365.68 396.39,364.47 396.50,364.06 396.61,364.53 396.72,365.79 396.83,367.61 396.94,369.36 397.05,370.79 397.16,371.75 397.27,372.04 397.38,371.57 397.49,370.38 397.60,368.65 397.71,366.43 397.82,364.18 397.93,362.54 398.04,361.85 398.15,362.27 398.26,363.72 398.37,365.92 398.48,368.16 398.59,370.00 398.70,371.26 398.81,371.66 398.92,371.07 399.03,369.58 399.14,367.48 399.25,364.90 399.36,362.44 399.47,360.79 399.58,360.27 399.69,360.94 399.80,362.64 399.91,364.99 400.02,367.26 400.13,369.10 400.24,370.26 400.35,370.52 400.46,369.85 400.57,368.38 400.68,366.43 400.79,364.22 400.90,362.30 401.01,361.12 401.12,360.91 401.23,361.70 401.34,363.31 401.45,365.41 401.56,367.50 401.67,369.26 401.78,370.35 401.89,370.53 402.00,369.72 402.11,368.07 402.22,365.90 402.33,363.77 402.44,362.08 402.55,361.17 402.66,361.25 402.77,362.29 402.88,364.07 402.99,366.28 403.10,368.65 403.21,370.45 403.32,371.28 403.43,370.98 403.54,369.60 403.65,367.45 403.76,365.15 403.87,363.25 403.98,361.95 404.09,361.51 404.20,362.01 404.31,363.35 404.42,365.23 404.53,367.39 404.64,369.27 404.75,370.41 404.86,370.58 404.97,369.78 405.08,368.22 405.19,366.25 405.30,364.28 405.41,362.70 405.52,361.84 405.63,361.89 405.74,362.85 405.85,364.53 405.96,366.55 406.07,368.37 406.18,369.71 406.29,370.29 406.40,369.97 406.51,368.81 406.62,367.05 406.73,364.91 406.84,362.86 406.95,361.48 407.06,361.11 407.17,361.88 407.28,363.65 407.39,366.08 407.50,368.35 407.61,370.22 407.72,371.26 407.83,371.21 407.94,370.03 408.05,367.96 408.16,365.33 408.27,362.67 408.38,360.78 408.49,360.12 408.60,360.86 408.71,362.84 408.82,365.63 408.93,368.48 409.04,370.84 409.15,372.21 409.26,372.25 409.37,370.95 409.48,368.58 409.59,365.68 409.70,362.91 409.81,360.95 409.92,360.23 410.03,360.90 410.14,362.82 410.25,365.53 410.36,368.45 410.47,370.88 410.58,372.27 410.69,372.29 410.80,370.96 410.91,368.58 411.02,365.70 411.13,362.94 411.24,360.97 411.35,360.26 411.46,360.97 411.57,362.95 411.68,365.72 411.79,368.50 411.90,370.71 412.01,371.88 412.12,371.76 412.23,370.39 412.34,368.13 412.45,365.45 412.56,362.96 412.67,361.35 412.78,360.98 412.89,361.89 413.00,363.81 413.11,366.27 413.22,368.64 413.33,370.43 413.44,371.23 413.55,370.89 413.66,369.49 413.77,367.41 413.88,365.18 413.99,363.33 414.10,362.25 414.21,362.17 414.32,363.11 414.43,364.82 414.54,366.89 414.65,368.85 414.76,370.20 414.87,370.62 414.98,370.04 415.09,368.60 415.20,366.66 415.31,364.67 415.42,363.11 415.53,362.38 415.64,362.65 415.75,363.84 415.86,365.64 415.97,367.61 416.08,369.27 416.19,370.23 416.30,370.26 416.41,369.35 416.52,367.75 416.63,365.87 416.74,364.25 416.85,363.21 416.96,363.01 417.07,363.65 417.18,364.96 417.29,366.62 417.40,368.42 417.51,369.73 417.62,370.25 417.73,369.83 417.84,368.57 417.95,366.78 418.06,365.18 418.17,363.95 418.28,363.34 418.39,363.52 418.50,364.46 418.61,365.95 418.72,367.87 418.83,369.64 418.94,370.65 419.05,370.65 419.16,369.60 419.27,367.74 419.38,365.71 419.49,364.03 419.60,362.96 419.71,362.83 419.82,363.68 419.93,365.34 420.04,367.48 420.15,369.66 420.26,371.09 420.37,371.41 420.48,370.53 420.59,368.67 420.70,366.38 420.81,364.37 420.92,362.98 421.03,362.59 421.14,363.30 421.25,364.96 421.36,367.17 421.47,369.38 421.58,370.92 421.69,371.41 421.80,370.75 421.91,369.14 422.02,367.03 422.13,364.71 422.24,362.94 422.35,362.23 422.46,362.81 422.57,364.56 422.68,367.09 422.79,369.09 422.90,370.55 423.01,371.13 423.12,370.69 423.23,369.36 423.34,367.48 423.45,364.64 423.56,362.36 423.67,361.39 423.78,362.01 423.89,364.12 424.00,367.15 424.11,369.32 424.22,370.92 424.33,371.63 424.44,371.23 424.55,369.80 424.66,367.73 424.77,364.71 424.88,362.44 424.99,361.59 425.10,362.38 425.21,364.54 425.32,367.47 425.43,369.84 425.54,371.61 425.65,372.32 425.76,371.76 425.87,370.06 425.98,367.67 426.09,365.02 426.20,363.14 426.31,362.51 426.42,363.29 426.53,365.27 426.64,367.91 426.75,370.52 426.86,372.41 426.97,373.04 427.08,372.18 427.19,370.04 427.30,367.20 427.41,364.56 427.52,362.77 427.63,362.33 427.74,363.38 427.85,365.63 427.96,368.55 428.07,371.45 428.18,373.31 428.29,373.58 428.40,372.15 428.51,369.43 428.62,366.34 428.73,363.81 428.84,362.34 428.95,362.32 429.06,363.77 429.17,366.27 429.28,369.27 429.39,371.82 429.50,373.07 429.61,372.71 429.72,370.85 429.83,368.08 429.94,365.10 430.05,362.71 430.16,361.59 430.27,362.11 430.38,364.12 430.49,367.08 430.60,369.64 430.71,371.43 430.82,371.98 430.93,371.16 431.04,369.19 431.15,366.54 431.26,363.54 431.37,361.61 431.48,361.28 431.59,362.62 431.70,365.18 431.81,368.06 431.92,370.48 432.03,371.94 432.14,371.97 432.25,370.48 432.36,367.85 432.47,365.13 432.58,363.17 432.69,362.36 432.80,362.85 432.91,364.42 433.02,366.57 433.13,369.73 433.24,372.11 433.35,372.89 433.46,371.81 433.57,369.18 433.68,366.10 433.79,364.20 433.90,362.96 434.01,362.77 434.12,363.69 434.23,365.50 434.34,368.21 434.45,370.75 434.56,371.92 434.67,371.44 434.78,369.51 434.89,366.77 435.00,364.09 435.11,361.99 435.22,361.13 435.33,361.86 435.44,364.05 435.55,366.94 435.66,369.17 435.77,370.52 435.88,370.61 435.99,369.42 436.10,367.32 436.21,364.27 436.32,361.35 436.43,359.92 436.54,360.46 436.65,362.83 436.76,366.30 436.87,368.80 436.98,370.59 437.09,371.12 437.20,370.19 437.31,368.06 437.42,365.07 437.53,362.08 437.64,360.50 437.75,360.80 437.86,362.82 437.97,365.88 438.08,368.76 438.19,370.87 438.30,371.64 438.41,370.82 438.52,368.69 438.63,365.91 438.74,363.47 438.85,362.12 438.96,362.23 439.07,363.70 439.18,366.00 439.29,368.72 439.40,370.93 439.51,371.84 439.62,371.16 439.73,369.11 439.84,366.48 439.95,364.62 440.06,363.53 440.17,363.53 440.28,364.59 440.39,366.35 440.50,368.91 440.61,371.17 440.72,372.11 440.83,371.45 440.94,369.39 441.05,366.78 441.16,365.01 441.27,363.90 441.38,363.82 441.49,364.83 441.60,366.64 441.71,369.30 441.82,371.59 441.93,372.53 442.04,371.79 442.15,369.58 442.26,366.80 442.37,364.80 442.48,363.61 442.59,363.62 442.70,364.88 442.81,366.98 442.92,370.10 443.03,372.64 443.14,373.53 443.25,372.43 443.36,369.66 443.47,366.55 443.58,364.40 443.69,363.23 443.80,363.43 443.91,365.00 444.02,367.43 444.13,371.00 444.24,373.44 444.35,373.91 444.46,372.25 444.57,369.04 444.68,365.84 444.79,363.50 444.90,362.45 445.01,363.05 445.12,365.13 445.23,368.13 445.34,371.28 445.45,373.07 445.56,372.94 445.67,370.97 445.78,367.84 445.89,364.84 446.00,362.73 446.11,362.15 446.22,363.29 446.33,365.73 446.44,368.77 446.55,371.41 446.66,372.61 446.77,371.97 446.88,369.68 446.99,366.57 447.10,363.92 447.21,362.34 447.32,362.34 447.43,363.90 447.54,366.50 447.65,369.64 447.76,371.93 447.87,372.51 447.98,371.14 448.09,368.28 448.20,365.14 448.31,362.70 448.42,361.59 448.53,362.24 448.64,364.44 448.75,367.55 448.86,370.57 448.97,372.23 449.08,371.94 449.19,369.79 449.30,366.52 449.41,363.22 449.52,360.98 449.63,360.62 449.74,362.32 449.85,365.51 449.96,368.95 450.07,371.48 450.18,372.25 450.29,370.97 450.40,368.09 450.51,364.47 450.62,361.38 450.73,360.04 450.84,360.93 450.95,363.72 451.06,367.34 451.17,370.44 451.28,372.10 451.39,371.73 451.50,369.46 451.61,366.10 451.72,362.79 451.83,360.80 451.94,360.81 452.05,362.77 452.16,365.95 452.27,369.33 452.38,371.68 452.49,372.15 452.60,370.56 452.71,367.49 452.82,364.27 452.93,361.99 453.04,361.31 453.15,362.47 453.26,365.01 453.37,368.29 453.48,371.15 453.59,372.32 453.70,371.38 453.81,368.67 453.92,365.40 454.03,362.87 454.14,361.64 454.25,362.18 454.36,364.29 454.47,367.35 454.58,370.46 454.69,372.12 454.80,371.75 454.91,369.50 455.02,366.26 455.13,363.27 455.24,361.44 455.35,361.47 455.46,363.42 455.57,366.62 455.68,369.60 455.79,371.42 455.90,371.46 456.01,369.76 456.12,367.02 456.23,363.55 456.34,361.11 456.45,360.74 456.56,362.60 456.67,366.03 456.78,368.80 456.89,370.52 457.00,370.81 457.11,369.64 457.22,367.46 457.33,364.15 457.44,361.55 457.55,360.97 457.66,362.58 457.77,365.72 457.88,368.44 457.99,370.20 458.10,370.74 458.21,369.84 458.32,367.81 458.43,364.95 458.54,362.65 458.65,362.00 458.76,363.21 458.87,365.76 458.98,368.51 459.09,370.60 459.20,371.34 459.31,370.42 459.42,368.14 459.53,365.36 459.64,363.16 459.75,362.41 459.86,363.39 459.97,365.76 460.08,368.63 460.19,370.87 460.30,371.64 460.41,370.63 460.52,368.22 460.63,365.22 460.74,362.75 460.85,361.87 460.96,362.97 461.07,365.67 461.18,368.71 461.29,370.93 461.40,371.63 461.51,370.55 461.62,368.08 461.73,364.88 461.84,362.31 461.95,361.59 462.06,362.97 462.17,365.88 462.28,368.91 462.39,371.04 462.50,371.59 462.61,370.34 462.72,367.78 462.83,364.86 462.94,362.87 463.05,362.55 463.16,363.94 463.27,366.42 463.38,369.23 463.49,371.24 463.60,371.58 463.71,370.09 463.82,367.34 463.93,365.04 464.04,363.67 464.15,363.62 464.26,364.85 464.37,366.87 464.48,369.97 464.59,371.97 464.70,372.01 464.81,369.99 464.92,366.77 465.03,364.79 465.14,363.63 465.25,363.76 465.36,365.17 465.47,367.62 465.58,371.00 465.69,372.77 465.80,372.19 465.91,369.46 466.02,366.09 466.13,363.87 466.24,362.79 466.35,363.36 466.46,365.40 466.57,368.64 466.68,371.77 466.79,372.92 466.90,371.62 467.01,368.38 467.12,364.99 467.23,362.59 467.34,361.86 467.45,363.18 467.56,366.07 467.67,369.80 467.78,372.49 467.89,372.88 468.00,370.78 468.11,367.04 468.22,363.51 468.33,361.28 468.44,361.29 468.55,363.61 468.66,367.35 468.77,371.10 468.88,373.08 468.99,372.47 469.10,369.51 469.21,365.43 469.32,361.91 469.43,360.38 469.54,361.50 469.65,364.84 469.76,368.97 469.87,372.15 469.98,373.08 470.09,371.38 470.20,367.76 470.31,363.70 470.42,360.95 470.53,360.67 470.64,362.91 470.75,366.70 470.86,370.60 470.97,372.90 471.08,372.62 471.19,369.85 471.30,365.87 471.41,362.70 471.52,361.31 471.63,362.21 471.74,364.96 471.85,368.78 471.96,372.19 472.07,373.28 472.18,371.59 472.29,367.81 472.40,364.40 472.51,362.29 472.62,362.08 472.73,363.83 472.84,366.80 472.95,370.80 473.06,373.02 473.17,372.52 473.28,369.55 473.39,365.75 473.50,363.12 473.61,362.03 473.72,362.94 473.83,365.48 473.94,369.09 474.05,372.00 474.16,372.59 474.27,370.65 474.38,367.05 474.49,364.05 474.60,362.27 474.71,362.41 474.82,364.41 474.93,367.55 475.04,370.76 475.15,372.17 475.26,371.20 475.37,368.30 475.48,365.01 475.59,362.67 475.70,362.09 475.81,363.53 475.92,366.38 476.03,369.66 476.14,371.67 476.25,371.51 476.36,369.25 476.47,365.97 476.58,363.25 476.69,362.09 476.80,362.97 476.91,365.50 477.02,368.76 477.13,371.27 477.24,371.78 477.35,370.06 477.46,366.87 477.57,364.10 477.68,362.56 477.79,362.91 477.90,364.95 478.01,367.99 478.12,370.92 478.23,372.03 478.34,370.80 478.45,367.75 478.56,364.84 478.67,363.02 478.78,362.90 478.89,364.53 479.00,367.33 479.11,370.72 479.22,372.40 479.33,371.59 479.44,368.61 479.55,365.31 479.66,363.11 479.77,362.57 479.88,363.99 479.99,366.77 480.10,370.41 480.21,372.47 480.32,371.99 480.43,369.23 480.54,365.68 480.65,363.00 480.76,362.08 480.87,363.38 480.98,366.38 481.09,369.77 481.20,371.82 481.31,371.63 481.42,369.37 481.53,366.05 481.64,362.94 481.75,361.68 481.86,362.89 481.97,366.06 482.08,369.22 482.19,371.15 482.30,371.22 482.41,369.43 482.52,366.44 482.63,363.04 482.74,361.51 482.85,362.60 482.96,365.81 483.07,369.08 483.18,371.20 483.29,371.55 483.40,369.97 483.51,367.10 483.62,363.77 483.73,362.24 483.84,363.30 483.95,366.51 484.06,370.26 484.17,373.04 484.28,373.86 484.39,372.42 484.50,369.48 484.61,366.47 484.72,365.09 484.83,366.10 484.94,369.11 485.05,373.03 485.16,376.31 485.27,377.55 485.38,376.43 485.49,373.76 485.60,371.04 485.71,369.75 485.82,370.73 485.93,373.73 486.04,377.64 486.15,380.93 486.26,382.38 486.37,381.63 486.48,379.32 486.59,376.78 486.70,375.41 486.81,376.05 486.92,378.63 487.03,382.20 487.14,385.37 487.25,386.88 487.36,386.27 487.47,384.02 487.58,381.40 487.69,379.81 487.80,380.19 487.91,382.57 488.02,386.09 488.13,389.32 488.24,391.00 488.35,390.55 488.46,388.39 488.57,385.69 488.68,383.89 488.79,384.04 488.90,386.29 489.01,389.79 489.12,393.06 489.23,394.86 489.34,394.57 489.45,392.53 489.56,389.79 489.67,387.79 489.78,387.73 489.89,389.80 490.00,393.26 490.11,396.47 490.22,398.34 490.33,398.22 490.44,396.36 490.55,393.67 490.66,391.53 490.77,391.24 490.88,393.11 490.99,396.44 491.10,399.61 491.21,401.57 491.32,401.63 491.43,399.94 491.54,397.32 491.65,395.06 491.76,394.57 491.87,396.23 491.98,399.45 492.09,402.68 492.20,404.80 492.31,405.04 492.42,403.44 492.53,400.80 492.64,398.42 492.75,397.72 492.86,399.16 492.97,402.25 493.08,405.60 493.19,407.92 493.30,408.32 493.41,406.74 493.52,404.03 493.63,401.53 493.74,400.62 493.85,401.85 493.96,404.77 494.07,408.17 494.18,410.64 494.29,411.17 494.40,409.66 494.51,406.92 494.62,404.34 494.73,403.24 494.84,404.23 494.95,406.99 495.06,410.36 495.17,412.90 495.28,413.59 495.39,412.23 495.50,409.58 495.61,406.95 495.72,405.67 495.83,406.44 495.94,409.00 496.05,412.28 496.16,414.86 496.27,415.69 496.38,414.48 496.49,411.89 496.60,409.16 496.71,407.66 496.82,408.17 496.93,410.54 497.04,413.73 497.15,416.34 497.26,417.29 497.37,416.21 497.48,413.68 497.59,410.86 497.70,409.18 497.81,409.49 497.92,411.73 498.03,414.90 498.14,417.55 498.25,418.63 498.36,417.72 498.47,415.31 498.58,412.46 498.69,410.62 498.80,410.70 498.91,412.71 499.02,415.73 499.13,418.31 499.24,419.44 499.35,418.64 499.46,416.32 499.57,413.47 499.68,411.46 499.79,411.26 499.90,412.94 500.01,415.68 500.12,418.15 500.23,419.29 500.34,418.56 500.45,416.27 500.56,413.44 500.67,411.34 500.78,410.90 500.89,412.24 501.00,414.68 501.11,417.09 501.22,418.29 501.33,417.68 501.44,415.50 501.55,412.74 501.66,410.61 501.77,409.99 501.88,411.09 501.99,413.35 502.10,415.75 502.21,417.06 502.32,416.62 502.43,414.57 502.54,411.84 502.65,409.63 502.76,408.83 502.87,409.73 502.98,411.85 503.09,414.21 503.20,415.59 503.31,415.27 503.42,413.33 503.53,410.61 503.64,408.33 503.75,407.37 503.86,408.09 503.97,410.07 504.08,412.40 504.19,413.89 504.30,413.72 504.41,411.90 504.52,409.22 504.63,406.91 504.74,405.82 504.85,406.38 504.96,408.23 505.07,410.55 505.18,412.13 505.29,412.12 505.40,410.42 505.51,407.77 505.62,405.35 505.73,404.08 505.84,404.46 505.95,406.23 506.06,408.52 506.17,410.17 506.28,410.28 506.39,408.72 506.50,406.10 506.61,403.55 506.72,402.11 506.83,402.34 506.94,404.05 507.05,406.36 507.16,408.13 507.27,408.42 507.38,406.98 507.49,404.37 507.60,401.69 507.71,400.06 507.82,400.14 507.93,401.82 508.04,404.25 508.15,406.23 508.26,406.72 508.37,405.39 508.48,402.73 508.59,399.88 508.70,398.05 508.81,397.99 508.92,399.68 509.03,402.28 509.14,404.51 509.25,405.24 509.36,404.03 509.47,401.35 509.58,398.35 509.69,396.33 509.80,396.15 509.91,397.85 510.02,400.57 510.13,403.00 510.24,403.95 510.35,402.93 510.46,400.33 510.57,397.30 510.68,395.17 510.79,394.87 510.90,396.48 511.01,399.21 511.12,401.74 511.23,402.86 511.34,402.03 511.45,399.57 511.56,396.55 511.67,394.33 511.78,393.86 511.89,395.33 512.00,398.00 512.11,400.60 512.22,401.90 512.33,401.26 512.44,398.94 512.55,395.94 512.66,393.60 512.77,392.96 512.88,394.30 512.99,396.96 513.10,399.69 513.21,401.21 513.32,400.78 513.43,398.54 513.54,395.50 513.65,393.03 513.76,392.23 513.87,393.45 513.98,396.11 514.09,399.02 514.20,400.78 514.31,400.55 514.42,398.38 514.53,395.28 514.64,392.72 514.75,391.77 514.86,392.83 514.97,395.39 515.08,398.41 515.19,400.38 515.30,400.33 515.41,398.25 515.52,395.12 515.63,392.52 515.74,391.41 515.85,392.29 515.96,394.73 516.07,397.79 516.18,399.94 516.29,400.09 516.40,398.15 516.51,395.04 516.62,392.36 516.73,391.09 516.84,391.80 516.95,394.17 517.06,397.23 517.17,399.50 517.28,399.85 517.39,398.11 517.50,395.10 517.61,392.31 517.72,390.86 517.83,391.43 517.94,393.76 518.05,396.84 518.16,399.23 518.27,399.80 518.38,398.31 518.49,395.44 518.60,392.54 518.71,390.92 518.82,391.36 518.93,393.69 519.04,396.85 519.15,399.41 519.26,400.22 519.37,398.93 519.48,396.15 519.59,393.14 519.70,391.33 519.81,391.62 519.92,393.90 520.03,397.13 520.14,399.84 520.25,400.84 520.36,399.73 520.47,397.03 520.58,393.95 520.69,391.99 520.80,392.09 520.91,394.23 521.02,397.43 521.13,400.19 521.24,401.35 521.35,400.42 521.46,397.86 521.57,394.81 521.68,392.74 521.79,392.66 521.90,394.63 522.01,397.74 522.12,400.54 522.23,401.87 522.34,401.15 522.45,398.76 522.56,395.78 522.67,393.63 522.78,393.37 522.89,395.14 523.00,398.15 523.11,401.01 523.22,402.50 523.33,401.98 523.44,399.72 523.55,396.77 523.66,394.54 523.77,394.10 523.88,395.67 523.99,398.56 524.10,401.48 524.21,403.14 524.32,402.79 524.43,400.62 524.54,397.68 524.65,395.36 524.76,394.73 524.87,396.10 524.98,398.88 525.09,401.87 525.20,403.69 525.31,403.52 525.42,401.47 525.53,398.52 525.64,396.08 525.75,395.26 525.86,396.46 525.97,399.18 526.08,402.27 526.19,404.30 526.30,404.33 526.41,402.36 526.52,399.35 526.63,396.75 526.74,395.71 526.85,396.76 526.96,399.45 527.07,402.65 527.18,404.88 527.29,405.10 527.40,403.22 527.51,400.15 527.62,397.39 527.73,396.16 527.84,397.04 527.95,399.67 528.06,402.93 528.17,405.31 528.28,405.71 528.39,403.98 528.50,400.93 528.61,398.05 528.72,396.63 528.83,397.33 528.94,399.86 529.05,403.12 529.16,405.64 529.27,406.23 529.38,404.65 529.49,401.64 529.60,398.71 529.71,397.12 529.82,397.62 529.93,399.99 530.04,403.22 530.15,405.86 530.26,406.64 530.37,405.23 530.48,402.28 530.59,399.32 530.70,397.60 530.81,397.90 530.92,400.09 531.03,403.25 531.14,406.00 531.25,406.97 531.36,405.74 531.47,402.90 531.58,399.87 531.69,397.97 531.80,398.06 531.91,400.13 532.02,403.28 532.13,406.10 532.24,407.25 532.35,406.22 532.46,403.50 532.57,400.37 532.68,398.26 532.79,398.15 532.90,400.12 533.01,403.29 533.12,406.19 533.23,407.52 533.34,406.68 533.45,404.07 533.56,400.90 533.67,398.63 533.78,398.34 533.89,400.16 534.00,403.26 534.11,406.30 534.22,407.85 534.33,407.20 534.44,404.64 534.55,401.41 534.66,399.03 534.77,398.53 534.88,400.15 534.99,403.17 535.10,406.40 535.21,408.20 535.32,407.72 535.43,405.17 535.54,401.82 535.65,399.22 535.76,398.47 535.87,399.94 535.98,402.99 536.09,406.35 536.20,408.34 536.31,408.03 536.42,405.57 536.53,402.11 536.64,399.25 536.75,398.25 536.86,399.59 536.97,402.68 537.08,406.05 537.19,408.15 537.30,408.03 537.41,405.76 537.52,402.35 537.63,399.29 537.74,398.06 537.85,399.23 537.96,402.25 538.07,405.58 538.18,407.75 538.29,407.83 538.40,405.79 538.51,402.51 538.62,399.33 538.73,397.90 538.84,398.85 538.95,401.75 539.06,405.05 539.17,407.31 539.28,407.58 539.39,405.74 539.50,402.60 539.61,399.33 539.72,397.70 539.83,398.44 539.94,401.18 540.05,404.49 540.16,406.86 540.27,407.32 540.38,405.67 540.49,402.62 540.60,399.32 540.71,397.53 540.82,398.05 540.93,400.61 541.04,403.91 541.15,406.42 541.26,407.09 541.37,405.60 541.48,402.60 541.59,399.33 541.70,397.42 541.81,397.72 541.92,400.07 542.03,403.32 542.14,405.97 542.25,406.84 542.36,405.51 542.47,402.57 542.58,399.37 542.69,397.36 542.80,397.45 542.91,399.56 543.02,402.71 543.13,405.42 543.24,406.45 543.35,405.32 543.46,402.55 543.57,399.39 543.68,397.26 543.79,397.14 543.90,399.07 544.01,402.14 544.12,404.87 544.23,406.06 544.34,405.16 544.45,402.58 544.56,399.39 544.67,397.08 544.78,396.75 544.89,398.56 545.00,401.68 545.11,404.56 545.22,406.01 545.33,405.31 545.44,402.76 545.55,399.43 545.66,396.88 545.77,396.32 545.88,398.04 545.99,401.26 546.10,404.39 546.21,406.09 546.32,405.54 546.43,402.99 546.54,399.53 546.65,396.75 546.76,395.98 546.87,397.58 546.98,400.81 547.09,404.06 547.20,405.93 547.31,405.56 547.42,403.13 547.53,399.70 547.64,396.79 547.75,395.83 547.86,397.24 547.97,400.37 548.08,403.61 548.19,405.59 548.30,405.43 548.41,403.22 548.52,399.92 548.63,396.98 548.74,395.85 548.85,397.04 548.96,399.97 549.07,403.17 549.18,405.25 549.29,405.31 549.40,403.31 549.51,400.15 549.62,397.19 549.73,395.90 549.84,396.85 549.95,399.60 550.06,402.79 550.17,405.00 550.28,405.26 550.39,403.44 550.50,400.37 550.61,397.34 550.72,395.85 550.83,396.60 550.94,399.23 551.05,402.45 551.16,404.79 551.27,405.24 551.38,403.60 551.49,400.62 551.60,397.47 551.71,395.79 551.82,396.34 551.93,398.89 552.04,402.13 552.15,404.57 552.26,405.20 552.37,403.75 552.48,400.88 552.59,397.68 552.70,395.82 552.81,396.18 552.92,398.59 553.03,401.85 553.14,404.42 553.25,405.27 553.36,404.00 553.47,401.18 553.58,397.95 553.69,395.93 553.80,396.09 553.91,398.35 554.02,401.62 554.13,404.38 554.24,405.45 554.35,404.32 554.46,401.52 554.57,398.27 554.68,396.12 554.79,396.08 554.90,398.15 555.01,401.39 555.12,404.33 555.23,405.61 555.34,404.65 555.45,401.88 555.56,398.62 555.67,396.35 555.78,396.11 555.89,397.99 556.00,401.15 556.11,404.24 556.22,405.74 556.33,404.96 556.44,402.26 556.55,398.96 556.66,396.57 556.77,396.12 556.88,397.83 556.99,400.91 557.10,404.11 557.21,405.81 557.32,405.22 557.43,402.63 557.54,399.30 557.65,396.77 557.76,396.12 557.87,397.65 557.98,400.68 558.09,403.93 558.20,405.80 558.31,405.42 558.42,402.98 558.53,399.64 558.64,396.97 558.75,396.12 558.86,397.49 558.97,400.45 559.08,403.74 559.19,405.79 559.30,405.63 559.41,403.33 559.52,399.99 559.63,397.20 559.74,396.15 559.85,397.33 559.96,400.21 560.07,403.56 560.18,405.77 560.29,405.81 560.40,403.67 560.51,400.36 560.62,397.46 560.73,396.23 560.84,397.23 560.95,399.99 561.06,403.30 561.17,405.61 561.28,405.84 561.39,403.90 561.50,400.72 561.61,397.75 561.72,396.34 561.83,397.13 561.94,399.76 562.05,403.01 562.16,405.38 562.27,405.81 562.38,404.11 562.49,401.06 562.60,398.01 562.71,396.41 562.82,397.00 562.93,399.52 563.04,402.78 563.15,405.30 563.26,405.95 563.37,404.43 563.48,401.41 563.59,398.25 563.70,396.43 563.81,396.82 563.92,399.25 564.03,402.59 564.14,405.30 564.25,406.17 564.36,404.78 564.47,401.78 564.58,398.46 564.69,396.41 564.80,396.60 564.91,398.95 565.02,402.36 565.13,405.22 565.24,406.28 565.35,405.07 565.46,402.14 565.57,398.73 565.68,396.47 565.79,396.46 565.90,398.70 566.01,402.12 566.12,405.09 566.23,406.35 566.34,405.33 566.45,402.50 566.56,399.09 566.67,396.72 566.78,396.51 566.89,398.54 567.00,401.87 567.11,404.97 567.22,406.44 567.33,405.61 567.44,402.86 567.55,399.47 567.66,396.99 567.77,396.56 567.88,398.37 567.99,401.61 568.10,404.78 568.21,406.43 568.32,405.80 568.43,403.19 568.54,399.78 568.65,397.11 568.76,396.45 568.87,398.10 568.98,401.34 569.09,404.57 569.20,406.40 569.31,405.99 569.42,403.52 569.53,400.07 569.64,397.20 569.75,396.31 569.86,397.82 569.97,401.04 570.08,404.40 570.19,406.45 570.30,406.25 570.41,403.88 570.52,400.39 570.63,397.38 570.74,396.28 570.85,397.60 570.96,400.73 571.07,404.18 571.18,406.42 571.29,406.41 571.40,404.17 571.51,400.73 571.62,397.63 571.73,396.34 571.84,397.45 571.95,400.42 572.06,403.88 572.17,406.24 572.28,406.45 572.39,404.40 572.50,401.05 572.61,397.93 572.72,396.48 572.83,397.36 572.94,400.14 573.05,403.57 573.16,406.09 573.27,406.51 573.38,404.65 573.49,401.35 573.60,398.23 573.71,396.64 573.82,397.28 573.93,399.86 574.04,403.27 574.15,405.97 574.26,406.62 574.37,404.91 574.48,401.62 574.59,398.49 574.70,396.74 574.81,397.16 574.92,399.56 575.03,402.95 575.14,405.82 575.25,406.69 575.36,405.15 575.47,401.91 575.58,398.71 575.69,396.80 575.80,397.02 575.91,399.26 576.02,402.59 576.13,405.60 576.24,406.67 576.35,405.33 576.46,402.18 576.57,398.90 576.68,396.83 576.79,396.84 576.90,398.93 577.01,402.21 577.12,405.29 577.23,406.56 577.34,405.43 577.45,402.43 577.56,399.08 577.67,396.81 577.78,396.61 577.89,398.58 578.00,401.83 578.11,404.98 578.22,406.43 578.33,405.53 578.44,402.68 578.55,399.26 578.66,396.83 578.77,396.42 578.88,398.24 578.99,401.45 579.10,404.71 579.21,406.37 579.32,405.68 579.43,402.94 579.54,399.47 579.65,396.85 579.76,396.22 579.87,397.88 579.98,401.08 580.09,404.41 580.20,406.26 580.31,405.77 580.42,403.17 580.53,399.67 580.64,396.83 580.75,395.97 580.86,397.49 580.97,400.71 581.08,404.03 581.19,405.99 581.30,405.71 581.41,403.33 581.52,399.90 581.63,396.90 581.74,395.83 581.85,397.18 581.96,400.33 582.07,403.59 582.18,405.62 582.29,405.55 582.40,403.44 582.51,400.18 582.62,397.13 582.73,395.89 582.84,397.02 582.95,399.98 583.06,403.22 583.17,405.38 583.28,405.54 583.39,403.62 583.50,400.45 583.61,397.40 583.72,396.01 583.83,396.89 583.94,399.64 584.05,402.94 584.16,405.32 584.27,405.70 584.38,403.88 584.49,400.69 584.60,397.58 584.71,396.00 584.82,396.66 584.93,399.27 585.04,402.64 585.15,405.20 585.26,405.77 585.37,404.09 585.48,400.92 585.59,397.74 585.70,395.98 585.81,396.45 585.92,398.93 586.03,402.27 586.14,404.94 586.25,405.70 586.36,404.22 586.47,401.16 586.58,397.97 586.69,396.07 586.80,396.34 586.91,398.63 587.02,401.90 587.13,404.68 587.24,405.65 587.35,404.37 587.46,401.41 587.57,398.20 587.68,396.16 587.79,396.22 587.90,398.33 588.01,401.57 588.12,404.48 588.23,405.66 588.34,404.56 588.45,401.68 588.56,398.42 588.67,396.25 588.78,396.11 588.89,398.06 589.00,401.23 589.11,404.27 589.22,405.65 589.33,404.74 589.44,401.96 589.55,398.69 589.66,396.41 589.77,396.08 589.88,397.85 589.99,400.91 590.10,404.01 590.21,405.57 590.32,404.86 590.43,402.23 590.54,398.98 590.65,396.59 590.76,396.06 590.87,397.64 590.98,400.61 591.09,403.73 591.20,405.44 591.31,404.94 591.42,402.49 591.53,399.25 591.64,396.72 591.75,396.00 591.86,397.41 591.97,400.32 592.08,403.44 592.19,405.27 592.30,404.98 592.41,402.72 592.52,399.52 592.63,396.84 592.74,395.91 592.85,397.16 592.96,400.03 593.07,403.14 593.18,405.09 593.29,405.01 593.40,402.94 593.51,399.80 593.62,396.95 593.73,395.80 593.84,396.89 593.95,399.73 594.06,402.89 594.17,404.98 594.28,405.11 594.39,403.20 594.50,400.10 594.61,397.09 594.72,395.72 594.83,396.65 594.94,399.43 595.05,402.67 595.16,404.94 595.27,405.26 595.38,403.49 595.49,400.42 595.60,397.33 595.71,395.81 595.82,396.54 595.93,399.18 596.04,402.44 596.15,404.86 596.26,405.38 596.37,403.76 596.48,400.76 596.59,397.69 596.70,396.05 596.81,396.56 596.92,398.99 597.03,402.19 597.14,404.71 597.25,405.41 597.36,403.98 597.47,401.08 597.58,398.05 597.69,396.29 597.80,396.59 597.91,398.81 598.02,401.93 598.13,404.53 598.24,405.41 598.35,404.17 598.46,401.39 598.57,398.35 598.68,396.45 598.79,396.54 598.90,398.60 599.01,401.68 599.12,404.34 599.23,405.38 599.34,404.34 599.45,401.70 599.56,398.65 599.67,396.60 599.78,396.52 599.89,398.43 600.00,401.45 600.11,404.15 600.22,405.36 600.33,404.53 600.44,402.06 600.55,399.07 600.66,396.97 600.77,396.83 600.88,398.72 600.99,401.83 601.10,404.75 601.21,406.23 601.32,405.61 601.43,403.18 601.54,400.00 601.65,397.43 601.76,396.55 601.87,397.66 601.98,400.12 602.09,402.61 602.20,403.76 602.31,402.73 602.42,399.65 602.53,395.58 602.64,392.10 602.75,390.62 602.86,391.65 602.97,394.55 603.08,397.70 603.19,399.44 603.30,398.67 603.41,395.42 603.52,390.83 603.63,386.73 603.74,384.89 603.85,386.04 603.96,389.53 604.07,393.50 604.18,395.91 604.29,395.33 604.40,391.65 604.51,386.26 604.62,381.40 604.73,379.12 604.84,380.24 604.95,384.01 605.06,388.44 605.17,391.20 605.28,390.71 605.39,386.91 605.50,381.28 605.61,376.18 605.72,373.55 605.83,374.30 605.94,377.76 606.05,382.10 606.16,384.98 606.27,384.70 606.38,381.10 606.49,375.49 606.60,370.14 606.71,367.13 606.82,367.51 606.93,370.80 607.04,375.12 607.15,378.14 607.26,378.14 607.37,374.80 607.48,369.30 607.59,363.71 607.70,360.36 607.81,360.46 607.92,363.64 608.03,368.01 608.14,371.23 608.25,371.57 608.36,368.53 608.47,363.19 608.58,357.51 608.69,353.92 608.80,353.77 608.91,356.81 609.02,361.26 609.13,364.74 609.24,365.43 609.35,362.69 609.46,357.47 609.57,351.74 609.68,347.92 609.79,347.46 609.90,350.26 610.01,354.69 610.12,358.36 610.23,359.35 610.34,356.90 610.45,351.85 610.56,346.13 610.67,342.11 610.78,341.36 610.89,343.91 611.00,348.25 611.11,351.99 611.22,353.23 611.33,351.14 611.44,346.42 611.55,340.82 611.66,336.68 611.77,335.65 611.88,337.89 611.99,342.03 612.10,345.69 612.21,347.08 612.32,345.28 612.43,340.83 612.54,335.33 612.65,331.03 612.76,329.67 612.87,331.56 612.98,335.49 613.09,339.13 613.20,340.76 613.31,339.35 613.42,335.30 613.53,330.11 613.64,325.88 613.75,324.43 613.86,326.17 613.97,330.07 614.08,333.90 614.19,335.93 614.30,335.10 614.41,331.67 614.52,326.99 614.63,323.03 614.74,321.62 614.85,323.28 614.96,327.10 615.07,331.02 615.18,333.31 615.29,332.88 615.40,329.88 615.51,325.55 615.62,321.73 615.73,320.24 615.84,321.63 615.95,325.18 616.06,329.09 616.17,331.61 616.28,331.57 616.39,328.94 616.50,324.89 616.61,321.22 616.72,319.62 616.83,320.77 616.94,324.11 617.05,328.08 617.16,330.84 617.27,331.10 617.38,328.70 617.49,324.74 617.60,321.01 617.71,319.19 617.82,320.11 617.93,323.33 618.04,327.35 618.15,330.31 618.26,330.85 618.37,328.72 618.48,324.88 618.59,321.06 618.70,319.05 618.81,319.80 618.92,322.99 619.03,327.15 619.14,330.42 619.25,331.35 619.36,329.52 619.47,325.81 619.58,321.95 619.69,319.79 619.80,320.38 619.91,323.52 620.02,327.85 620.13,331.48 620.24,332.76 620.35,331.13 620.46,327.37 620.57,323.33 620.68,320.89 620.79,321.25 620.90,324.33 621.01,328.86 621.12,332.85 621.23,334.50 621.34,333.11 621.45,329.39 621.56,325.16 621.67,322.43 621.78,322.58 621.89,325.69 622.00,330.43 622.11,334.74 622.22,336.73 622.33,335.59 622.44,331.93 622.55,327.56 622.66,324.60 622.77,324.53 622.88,327.46 622.99,332.15 623.10,336.63 623.21,338.89 623.32,338.01 623.43,334.52 623.54,330.26 623.65,327.31 623.76,327.05 623.87,329.67 623.98,334.08 624.09,338.65 624.20,341.15 624.31,340.58 624.42,337.35 624.53,333.25 624.64,330.28 624.75,329.76 624.86,332.06 624.97,336.25 625.08,340.73 625.19,343.36 625.30,343.08 625.41,340.19 625.52,336.21 625.63,333.07 625.74,332.28 625.85,334.34 625.96,338.42 626.07,342.70 626.18,345.36 626.29,345.34 626.40,342.81 626.51,339.02 626.62,335.70 626.73,334.64 626.84,336.43 626.95,340.34 627.06,344.43 627.17,347.08 627.28,347.28 627.39,345.05 627.50,341.46 627.61,338.04 627.72,336.73 627.83,338.21 627.94,341.87 628.05,345.82 628.16,348.47 628.27,348.86 628.38,346.94 628.49,343.64 628.60,340.27 628.71,338.83 628.82,340.02 628.93,343.36 629.04,347.12 629.15,349.74 629.26,350.30 629.37,348.68 629.48,345.72 629.59,342.48 629.70,340.93 629.81,341.83 629.92,344.80 630.03,348.32 630.14,350.86 630.25,351.57 630.36,350.23 630.47,347.53 630.58,344.46 630.69,342.83 630.80,343.43 630.91,346.02 631.02,349.32 631.13,351.84 631.24,352.69 631.35,351.53 631.46,348.97 631.57,346.03 631.68,344.29 631.79,344.60 631.90,346.85 632.01,349.99 632.12,352.58 632.23,353.59 632.34,352.56 632.45,349.98 632.56,347.00 632.67,345.06 632.78,345.12 632.89,347.19 633.00,350.35 633.11,353.16 633.22,354.39 633.33,353.49 633.44,350.86 633.55,347.70 633.66,345.50 633.77,345.34 633.88,347.33 633.99,350.60 634.10,353.66 634.21,355.15 634.32,354.37 634.43,351.70 634.54,348.32 634.65,345.84 634.76,345.44 634.87,347.35 634.98,350.73 635.09,354.01 635.20,355.74 635.31,355.12 635.42,352.42 635.53,348.89 635.64,346.16 635.75,345.52 635.86,347.29 635.97,350.68 636.08,354.12 636.19,356.05 636.30,355.59 636.41,352.96 636.52,349.37 636.63,346.48 636.74,345.63 636.85,347.19 636.96,350.44 637.07,353.87 637.18,355.91 637.29,355.63 637.40,353.18 637.51,349.70 637.62,346.78 637.73,345.75 637.84,347.05 637.95,350.05 638.06,353.37 638.17,355.46 638.28,355.38 638.39,353.18 638.50,349.87 638.61,346.98 638.72,345.80 638.83,346.83 638.94,349.56 639.05,352.75 639.16,354.92 639.27,355.04 639.38,353.06 639.49,349.88 639.60,347.07 639.71,345.78 639.82,346.55 639.93,348.99 640.04,352.07 640.15,354.33 640.26,354.64 640.37,352.85 640.48,349.77 640.59,347.02 640.70,345.61 640.81,346.15 640.92,348.36 641.03,351.32 641.14,353.65 641.25,354.14 641.36,352.54 641.47,349.58 641.58,346.80 641.69,345.23 641.80,345.56 641.91,347.63 642.02,350.53 642.13,352.90 642.24,353.54 642.35,352.16 642.46,349.37 642.57,346.42 642.68,344.60 642.79,344.74 642.90,346.79 643.01,349.75 643.12,352.18 643.23,352.99 643.34,351.79 643.45,349.08 643.56,345.88 643.67,343.73 643.78,343.66 643.89,345.71 644.00,348.82 644.11,351.36 644.22,352.35 644.33,351.30 644.44,348.62 644.55,345.25 644.66,342.85 644.77,342.58 644.88,344.55 644.99,347.74 645.10,350.43 645.21,351.63 645.32,350.72 645.43,348.07 645.54,344.68 645.65,342.13 645.76,341.67 645.87,343.46 645.98,346.60 646.09,349.46 646.20,350.87 646.31,350.13 646.42,347.53 646.53,344.14 646.64,341.51 646.75,340.85 646.86,342.43 646.97,345.49 647.08,348.53 647.19,350.19 647.30,349.65 647.41,347.11 647.52,343.68 647.63,340.91 647.74,340.05 647.85,341.47 647.96,344.50 648.07,347.74 648.18,349.66 648.29,349.33 648.40,346.87 648.51,343.37 648.62,340.39 648.73,339.28 648.84,340.56 648.95,343.64 649.06,347.03 649.17,349.17 649.28,349.05 649.39,346.69 649.50,343.10 649.61,339.80 649.72,338.40 649.83,339.54 649.94,342.72 650.05,346.27 650.16,348.61 650.27,348.71 650.38,346.49 650.49,342.87 650.60,339.27 650.71,337.59 650.82,338.58 650.93,341.80 651.04,345.51 651.15,348.06 651.26,348.39 651.37,346.32 651.48,342.74 651.59,338.96 651.70,337.04 651.81,337.84 651.92,340.98 652.03,344.79 652.14,347.56 652.25,348.14 652.36,346.24 652.47,342.70 652.58,338.84 652.69,336.72 652.80,337.29 652.91,340.27 653.02,344.17 653.13,347.17 653.24,348.01 653.35,346.29 653.46,342.75 653.57,338.88 653.68,336.58 653.79,336.92 653.90,339.72 654.01,343.66 654.12,346.92 654.23,348.04 654.34,346.50 654.45,342.98 654.56,339.11 654.67,336.68 654.78,336.79 654.89,339.39 655.00,343.29 655.11,346.81 655.22,348.23 655.33,346.89 655.44,343.38 655.55,339.49 655.66,336.93 655.77,336.80 655.88,339.17 655.99,343.01 656.10,346.74 656.21,348.43 656.32,347.29 656.43,343.87 656.54,339.92 656.65,337.19 656.76,336.84 656.87,339.01 656.98,342.76 657.09,346.58 657.20,348.47 657.31,347.58 657.42,344.35 657.53,340.41 657.64,337.55 657.75,336.97 657.86,338.95 657.97,342.57 658.08,346.35 658.19,348.39 658.30,347.78 658.41,344.82 658.52,340.97 658.63,338.00 658.74,337.19 658.85,338.94 658.96,342.43 659.07,346.16 659.18,348.33 659.29,347.98 659.40,345.29 659.51,341.51 659.62,338.37 659.73,337.31 659.84,338.85 659.95,342.30 660.06,346.02 660.17,348.34 660.28,348.23 660.39,345.77 660.50,342.04 660.61,338.67 660.72,337.35 660.83,338.70 660.94,342.14 661.05,345.90 661.16,348.38 661.27,348.51 661.38,346.24 661.49,342.59 661.60,339.05 661.71,337.49 661.82,338.64 661.93,341.98 662.04,345.81 662.15,348.45 662.26,348.82 662.37,346.75 662.48,343.18 662.59,339.56 662.70,337.80 662.81,338.71 662.92,341.89 663.03,345.75 663.14,348.55 663.25,349.15 663.36,347.28 663.47,343.81 663.58,340.16 663.69,338.23 663.80,338.90 663.91,341.87 664.02,345.70 664.13,348.66 664.24,349.49 664.35,347.82 664.46,344.43 664.57,340.86 664.68,338.83 664.79,339.26 664.90,341.95 665.01,345.68 665.12,348.83 665.23,349.91 665.34,348.43 665.45,345.06 665.56,341.59 665.67,339.50 665.78,339.69 665.89,342.06 666.00,345.63 666.11,348.98 666.22,350.30 666.33,348.99 666.44,345.67 666.55,342.20 666.66,339.99 666.77,339.93 666.88,342.07 666.99,345.52 667.10,349.01 667.21,350.56 667.32,349.46 667.43,346.23 667.54,342.66 667.65,340.27 667.76,339.98 667.87,341.95 667.98,345.34 668.09,348.95 668.20,350.73 668.31,349.85 668.42,346.72 668.53,343.05 668.64,340.46 668.75,339.95 668.86,341.75 668.97,345.07 669.08,348.75 669.19,350.72 669.30,350.06 669.41,347.10 669.52,343.38 669.63,340.61 669.74,339.87 669.85,341.52 669.96,344.79 670.07,348.43 670.18,350.52 670.29,350.10 670.40,347.40 670.51,343.72 670.62,340.79 670.73,339.83 670.84,341.29 670.95,344.51 671.06,348.07 671.17,350.27 671.28,350.10 671.39,347.66 671.50,344.07 671.61,340.99 671.72,339.81 671.83,341.08 671.94,344.22 672.05,347.76 672.16,350.09 672.27,350.15 672.38,347.93 672.49,344.44 672.60,341.23 672.71,339.85 672.82,340.92 672.93,343.94 673.04,347.48 673.15,349.93 673.26,350.21 673.37,348.20 673.48,344.81 673.59,341.55 673.70,339.99 673.81,340.83 673.92,343.69 674.03,347.21 674.14,349.79 674.25,350.29 674.36,348.47 674.47,345.17 674.58,341.85 674.69,340.09 674.80,340.69 674.91,343.40 675.02,346.94 675.13,349.67 675.24,350.38 675.35,348.75 675.46,345.51 675.57,342.04 675.68,340.03 675.79,340.42 675.90,343.05 676.01,346.65 676.12,349.52 676.23,350.43 676.34,348.98 676.45,345.84 676.56,342.25 676.67,340.01 676.78,340.20 676.89,342.72 677.00,346.34 677.11,349.28 677.22,350.38 677.33,349.14 677.44,346.15 677.55,342.58 677.66,340.21 677.77,340.18 677.88,342.50 677.99,346.02 678.10,349.02 678.21,350.30 678.32,349.28 678.43,346.44 678.54,342.97 678.65,340.53 678.76,340.29 678.87,342.34 678.98,345.70 679.09,348.78 679.20,350.26 679.31,349.45 679.42,346.71 679.53,343.31 679.64,340.83 679.75,340.39 679.86,342.16 679.97,345.32 680.08,348.53 680.19,350.23 680.30,349.61 680.41,346.95 680.52,343.56 680.63,341.03 680.74,340.39 680.85,341.92 680.96,344.90 681.07,348.23 681.18,350.13 681.29,349.71 681.40,347.14 681.51,343.72 681.62,341.05 681.73,340.18 681.84,341.52 681.95,344.46 682.06,347.83 682.17,349.91 682.28,349.70 682.39,347.28 682.50,343.82 682.61,340.93 682.72,339.83 682.83,341.02 682.94,343.97 683.05,347.40 683.16,349.67 683.27,349.68 683.38,347.42 683.49,343.93 683.60,340.81 683.71,339.46 683.82,340.49 683.93,343.46 684.04,347.01 684.15,349.49 684.26,349.74 684.37,347.61 684.48,344.08 684.59,340.76 684.70,339.16 684.81,340.02 684.92,342.96 685.03,346.63 685.14,349.34 685.25,349.82 685.36,347.84 685.47,344.28 685.58,340.81 685.69,338.99 685.80,339.66 685.91,342.51 686.02,346.27 686.13,349.24 686.24,349.99 686.35,348.15 686.46,344.54 686.57,340.98 686.68,338.98 686.79,339.44 686.90,342.13 687.01,345.94 687.12,349.19 687.23,350.21 687.34,348.52 687.45,344.87 687.56,341.26 687.67,339.10 687.78,339.33 687.89,341.84 688.00,345.60 688.11,349.04 688.22,350.30 688.33,348.80 688.44,345.24 688.55,341.55 688.66,339.21 688.77,339.19 688.88,341.53 688.99,345.23 689.10,348.73 689.21,350.19 689.32,348.94 689.43,345.58 689.54,341.77 689.65,339.16 689.76,338.89 689.87,341.12 689.98,344.85 690.09,348.36 690.20,350.00 690.31,349.02 690.42,345.89 690.53,342.00 690.64,339.12 690.75,338.63 690.86,340.74 690.97,344.50 691.08,348.02 691.19,349.83 691.30,349.11 691.41,346.19 691.52,342.35 691.63,339.36 691.74,338.66 691.85,340.56 691.96,344.16 692.07,347.68 692.18,349.64 692.29,349.15 692.40,346.46 692.51,342.77 692.62,339.75 692.73,338.86 692.84,340.47 692.95,343.84 693.06,347.32 693.17,349.40 693.28,349.15 693.39,346.70 693.50,343.13 693.61,340.02 693.72,338.89 693.83,340.26 693.94,343.52 694.05,347.04 694.16,349.31 694.27,349.31 694.38,347.02 694.49,343.46 694.60,340.19 694.71,338.82 694.82,340.00 694.93,343.18 695.04,346.85 695.15,349.38 695.26,349.62 695.37,347.43 695.48,343.81 695.59,340.45 695.70,338.89 695.81,339.85 695.92,342.88 696.03,346.65 696.14,349.43 696.25,349.90 696.36,347.83 696.47,344.17 696.58,340.76 696.69,339.02 696.80,339.74 696.91,342.59 697.02,346.38 697.13,349.37 697.24,350.07 697.35,348.17 697.46,344.53 697.57,341.01 697.68,339.04 697.79,339.53 697.90,342.26 698.01,346.07 698.12,349.24 698.23,350.19 698.34,348.48 698.45,344.90 698.56,341.20 698.67,338.98 698.78,339.24 698.89,341.89 699.00,345.75 699.11,349.08 699.22,350.27 699.33,348.77 699.44,345.27 699.55,341.46 699.66,339.03 699.77,339.09 699.88,341.59 699.99,345.41 700.10,348.86 700.21,350.27 700.32,349.00 700.43,345.64 700.54,341.86 700.65,339.35 700.76,339.20 700.87,341.43 700.98,345.05 701.09,348.57 701.20,350.18 701.31,349.15 701.42,345.97 701.53,342.30 701.64,339.78 701.75,339.41 701.86,341.34 701.97,344.70 702.08,348.20 702.19,349.95 702.30,349.17 702.41,346.24 702.52,342.67 702.63,340.06 702.74,339.46 702.85,341.16 702.96,344.37 703.07,347.78 703.18,349.65 703.29,349.13 703.40,346.48 703.51,342.96 703.62,340.17 703.73,339.35 703.84,340.87 703.95,344.05 704.06,347.47 704.17,349.52 704.28,349.25 704.39,346.77 704.50,343.23 704.61,340.22 704.72,339.15 704.83,340.51 704.94,343.71 705.05,347.24 705.16,349.49 705.27,349.44 705.38,347.10 705.49,343.52 705.60,340.28 705.71,338.95 705.82,340.15 705.93,343.35 706.04,346.99 706.15,349.44 706.26,349.61 706.37,347.42 706.48,343.85 706.59,340.46 706.70,338.93 706.81,339.94 706.92,343.03 707.03,346.70 707.14,349.31 707.25,349.70 707.36,347.69 707.47,344.20 707.58,340.81 707.69,339.12 707.80,339.89 707.91,342.76 708.02,346.38 708.13,349.11 708.24,349.71 708.35,347.91 708.46,344.54 708.57,341.15 708.68,339.29 708.79,339.81 708.90,342.48 709.01,346.08 709.12,348.96 709.23,349.80 709.34,348.20 709.45,344.88 709.56,341.40 709.67,339.33 709.78,339.63 709.89,342.16 710.00,345.81 710.11,348.93 710.22,350.04 710.33,348.60 710.44,345.25 710.55,341.64 710.66,339.37 710.77,339.44 710.88,341.84 710.99,345.53 711.10,348.92 711.21,350.30 711.32,349.02 711.43,345.64 711.54,341.90 711.65,339.42 711.76,339.26 711.87,341.51 711.98,345.19 712.09,348.75 712.20,350.35 712.31,349.26 712.42,345.99 712.53,342.16 712.64,339.46 712.75,339.07 712.86,341.18 712.97,344.83 713.08,348.39 713.19,350.15 713.30,349.32 713.41,346.29 713.52,342.48 713.63,339.62 713.74,339.02 713.85,340.93 713.96,344.48 714.07,348.03 714.18,349.96 714.29,349.38 714.40,346.58 714.51,342.83 714.62,339.88 714.73,339.05 714.84,340.73 714.95,344.14 715.06,347.77 715.17,349.92 715.28,349.59 715.39,346.93 715.50,343.16 715.61,340.06 715.72,338.99 715.83,340.46 715.94,343.80 716.05,347.57 716.16,349.98 716.27,349.89 716.38,347.32 716.49,343.47 716.60,340.15 716.71,338.81 716.82,340.10 716.93,343.43 717.04,347.34 717.15,349.98 717.26,350.12 717.37,347.69 717.48,343.80 717.59,340.26 717.70,338.66 717.81,339.76 717.92,343.06 718.03,347.02 718.14,349.83 718.25,350.20 718.36,347.97 718.47,344.16 718.58,340.49 718.69,338.67 718.80,339.55 718.91,342.71 719.02,346.66 719.13,349.59 719.24,350.19 719.35,348.20 719.46,344.53 719.57,340.80 719.68,338.79 719.79,339.42 719.90,342.40 720.01,346.31 720.12,349.37 720.23,350.21 720.34,348.45 720.45,344.89 720.56,341.12 720.67,338.91 720.78,339.29 720.89,342.08 721.00,346.00 721.11,349.24 721.22,350.35 721.33,348.79 721.44,345.27 721.55,341.43 721.66,339.03 721.77,339.17 721.88,341.78 721.99,345.68 722.10,349.14 722.21,350.49 722.32,349.12 722.43,345.65 722.54,341.78 722.65,339.23 722.76,339.14 722.87,341.53 722.98,345.33 723.09,348.90 723.20,350.47 723.31,349.33 723.42,346.01 723.53,342.16 723.64,339.49 723.75,339.16 723.86,341.31 723.97,344.97 724.08,348.60 724.19,350.38 724.30,349.49 724.41,346.35 724.52,342.49 724.63,339.66 724.74,339.08 724.85,341.03 724.96,344.62 725.07,348.32 725.18,350.29 725.29,349.65 725.40,346.68 725.51,342.79 725.62,339.72 725.73,338.87 725.84,340.66 725.95,344.28 726.06,348.00 726.17,350.14 726.28,349.75 726.39,346.99 726.50,343.08 726.61,339.73 726.72,338.60 726.83,340.23 726.94,343.90 727.05,347.71 727.16,350.06 727.27,349.92 727.38,347.34 727.49,343.39 727.60,339.74 727.71,338.31 727.82,339.78 727.93,343.49 728.04,347.50 728.15,350.12 728.26,350.23 728.37,347.76 728.48,343.76 728.59,339.90 728.70,338.21 728.81,339.47 728.92,343.11 729.03,347.27 729.14,350.15 729.25,350.51 729.36,348.17 729.47,344.18 729.58,340.27 729.69,338.39 729.80,339.40 729.91,342.79 730.02,346.98 730.13,350.06 730.24,350.67 730.35,348.52 730.46,344.59 730.57,340.75 730.68,338.74 730.79,339.46 730.90,342.55 731.01,346.66 731.12,349.95 731.23,350.82 731.34,348.88 731.45,344.99 731.56,341.23 731.67,339.10 731.78,339.54 731.89,342.33 732.00,346.34 732.11,349.86 732.22,351.01 732.33,349.26 732.44,345.40 732.55,341.59 732.66,339.28 732.77,339.44 732.88,342.02 732.99,345.99 733.10,349.68 733.21,351.08 733.32,349.55 733.43,345.80 733.54,341.80 733.65,339.19 733.76,339.10 733.87,341.59 733.98,345.60 734.09,349.36 734.20,350.97 734.31,349.71 734.42,346.16 734.53,342.01 734.64,339.09 734.75,338.74 734.86,341.15 734.97,345.21 735.08,349.00 735.19,350.82 735.30,349.84 735.41,346.51 735.52,342.31 735.63,339.18 735.74,338.59 735.85,340.82 735.96,344.84 736.07,348.71 736.18,350.75 736.29,350.03 736.40,346.88 736.51,342.70 736.62,339.42 736.73,338.58 736.84,340.58 736.95,344.47 737.06,348.43 737.17,350.69 737.28,350.22 737.39,347.23 737.50,343.10 737.61,339.74 737.72,338.68 737.83,340.40 737.94,344.11 738.05,348.07 738.16,350.49 738.27,350.26 738.38,347.51 738.49,343.50 738.60,340.07 738.71,338.78 738.82,340.23 738.93,343.75 739.04,347.67 739.15,350.20 739.26,350.23 739.37,347.74 739.48,343.87 739.59,340.30 739.70,338.76 739.81,339.97 739.92,343.38 740.03,347.31 740.14,350.00 740.25,350.28 740.36,348.02 740.47,344.23 740.58,340.49 740.69,338.70 740.80,339.68 740.91,343.00 741.02,347.00 741.13,349.87 741.24,350.40 741.35,348.33 741.46,344.60 741.57,340.72 741.68,338.67 741.79,339.42 741.90,342.61 742.01,346.70 742.12,349.79 742.23,350.58 742.34,348.69 742.45,344.98 742.56,340.95 742.67,338.64 742.78,339.14 742.89,342.22 743.00,346.40 743.11,349.74 743.22,350.81 743.33,349.09 743.44,345.36 743.55,341.22 743.66,338.68 743.77,338.93 743.88,341.85 743.99,346.07 744.10,349.63 744.21,350.96 744.32,349.44 744.43,345.75 744.54,341.58 744.65,338.87 744.76,338.87 744.87,341.56 744.98,345.71 745.09,349.44 745.20,351.03 745.31,349.73 745.42,346.14 745.53,341.99 745.64,339.17 745.75,338.91 745.86,341.33 745.97,345.32 746.08,349.19 746.19,351.02 746.30,349.97 746.41,346.52 746.52,342.37 746.63,339.39 746.74,338.86 746.85,341.04 746.96,344.94 747.07,348.89 747.18,350.93 747.29,350.13 747.40,346.87 747.51,342.67 747.62,339.43 747.73,338.61 747.84,340.62 747.95,344.55 748.06,348.52 748.17,350.73 748.28,350.20 748.39,347.17 748.50,342.97 748.61,339.44 748.72,338.35 748.83,340.21 748.94,344.17 749.05,348.14 749.16,350.50 749.27,350.26 749.38,347.56 749.49,343.54 749.60,339.92 749.71,338.79 749.82,340.79 749.93,344.88 750.04,348.83 750.15,351.23 750.26,351.48 750.37,349.97 750.48,347.75 750.59,345.98 750.70,345.82 750.81,347.32 750.92,349.75 751.03,352.03 751.14,353.53 751.25,354.09 751.36,353.93 751.47,353.52 751.58,353.41 751.69,354.07 751.80,355.61 751.91,357.79 752.02,360.14 752.13,362.22 752.24,363.74 752.35,364.69 752.46,365.33 752.57,366.05 752.68,367.15 752.79,368.77 752.90,370.79 753.01,372.93 753.12,374.87 753.23,376.33 753.34,377.25 753.45,377.80 753.56,378.35 753.67,379.23 753.78,380.65 753.89,382.56 754.00,384.69 754.11,386.68 754.22,388.19 754.33,389.15 754.44,389.72 754.55,390.22 754.66,391.03 754.77,392.40 754.88,394.29 754.99,396.43 755.10,398.43 755.21,399.98 755.32,400.97 755.43,401.54 755.54,401.99 755.65,402.74 755.76,404.03 755.87,405.87 755.98,408.00 756.09,410.02 756.20,411.62 756.31,412.63 756.42,413.18 756.53,413.59 756.64,414.26 756.75,415.48 756.86,417.28 756.97,419.42 757.08,421.52 757.19,423.19 757.30,424.23 757.41,424.74 757.52,425.06 757.63,425.63 757.74,426.76 757.85,428.54 757.96,430.75 758.07,432.99 758.18,434.80 758.29,435.91 758.40,436.32 758.51,436.36 758.62,436.55 758.73,437.44 758.84,439.31 758.95,442.00 759.06,444.84 759.17,447.11 759.28,448.26 759.39,448.19 759.50,447.36 759.61,446.63 759.72,447.11 759.83,449.33 759.94,452.98 760.05,456.76 760.16,459.64 760.27,460.81 760.38,460.19 760.49,458.42 760.60,456.66 760.71,456.70 760.82,459.31 760.93,464.11 761.04,469.10 761.15,472.92 761.26,474.44 761.37,473.42 761.48,470.63 761.59,467.55 761.70,466.87 761.81,469.69 761.92,475.48 762.03,481.68 762.14,486.28 762.25,487.84 762.36,486.03 762.47,481.98 762.58,477.53 762.69,475.90 762.80,478.35 762.91,484.17 763.02,490.68 763.13,495.43 763.24,496.83 763.35,494.52 763.46,489.82 763.57,484.76 763.68,482.51 763.79,484.40 763.90,489.88 764.01,496.48 764.12,501.51 764.23,503.09 764.34,500.72 764.45,495.68 764.56,490.23 764.67,487.39 764.78,488.67 764.89,493.66 765.00,500.11 765.11,505.21 765.22,506.90 765.33,504.55 765.44,499.38 765.55,493.73 765.66,490.49 765.77,491.28 765.88,495.85 765.99,502.12 766.10,507.24 766.21,509.13 766.32,507.05 766.43,502.08 766.54,496.35 766.65,492.71 766.76,492.94 766.87,496.98 766.98,502.90 767.09,507.82 767.20,509.75 767.31,507.80 767.42,502.85 767.53,496.81 767.64,492.55 767.75,492.02 767.86,495.33 767.97,500.73 768.08,505.35 768.19,507.20 768.30,505.25 768.41,500.18 768.52,493.93 768.63,489.25 768.74,488.16 768.85,490.90 768.96,495.92 769.07,500.55 769.18,502.61 769.29,500.93 769.40,496.05 769.51,489.97 769.62,485.27 769.73,483.87 769.84,486.13 769.95,490.72 770.06,495.29 770.17,497.46 770.28,495.97 770.39,491.24 770.50,485.22 770.61,480.41 770.72,478.60 770.83,480.25 770.94,484.23 771.05,488.57 771.16,490.82 771.27,489.64 771.38,485.29 771.49,479.58 771.60,474.92 771.71,472.95 771.82,474.25 771.93,477.89 772.04,482.16 772.15,484.69 772.26,484.03 772.37,480.28 772.48,475.05 772.59,470.66 772.70,468.69 772.81,469.82 772.92,473.34 773.03,477.64 773.14,480.43 773.25,480.20 773.36,476.93 773.47,472.01 773.58,467.67 773.69,465.55 773.80,466.45 773.91,469.81 774.02,474.01 774.13,476.91 774.24,477.02 774.35,474.16 774.46,469.54 774.57,465.18 774.68,462.87 774.79,463.53 774.90,466.70 775.01,470.81 775.12,473.82 775.23,474.21 775.34,471.68 775.45,467.25 775.56,462.86 775.67,460.35 775.78,460.72 775.89,463.64 776.00,467.64 776.11,470.76 776.22,471.38 776.33,469.07 776.44,464.74 776.55,460.33 776.66,457.62 776.77,457.66 776.88,460.23 776.99,464.06 777.10,467.28 777.21,468.11 777.32,465.98 777.43,461.67 777.54,457.23 777.65,454.34 777.76,454.06 777.87,456.32 777.98,459.98 778.09,463.34 778.20,464.41 778.31,462.50 778.42,458.29 778.53,453.80 778.64,450.72 778.75,450.18 778.86,452.23 778.97,455.82 779.08,459.32 779.19,460.66 779.30,459.04 779.41,455.02 779.52,450.51 779.63,447.30 779.74,446.57 779.85,448.48 779.96,452.03 780.07,455.66 780.18,457.28 780.29,456.00 780.40,452.27 780.51,447.85 780.62,444.59 780.73,443.69 780.84,445.40 780.95,448.78 781.06,452.42 781.17,454.21 781.28,453.23 781.39,449.80 781.50,445.53 781.61,442.25 781.72,441.18 781.83,442.67 781.94,445.90 782.05,449.46 782.16,451.42 782.27,450.78 782.38,447.75 782.49,443.71 782.60,440.42 782.71,439.22 782.82,440.55 782.93,443.74 783.04,447.27 783.15,449.40 783.26,449.07 783.37,446.40 783.48,442.53 783.59,439.15 783.70,437.74 783.81,438.88 783.92,441.99 784.03,445.49 784.14,447.75 784.25,447.71 784.36,445.33 784.47,441.63 784.58,438.22 784.69,436.68 784.80,437.67 784.91,440.67 785.02,444.27 785.13,446.80 785.24,447.09 785.35,444.98 785.46,441.42 785.57,438.06 785.68,436.43 785.79,437.28 785.90,440.23 786.01,443.99 786.12,446.84 786.23,447.47 786.34,445.60 786.45,442.11 786.56,438.65 786.67,436.82 786.78,437.52 786.89,440.48 787.00,444.39 787.11,447.48 787.22,448.39 787.33,446.74 787.44,443.35 787.55,439.72 787.66,437.64 787.77,438.16 787.88,441.10 787.99,445.12 788.10,448.36 788.21,449.50 788.32,448.08 788.43,444.81 788.54,441.07 788.65,438.78 788.76,439.08 788.87,441.92 788.98,445.98 789.09,449.40 789.20,450.82 789.31,449.68 789.42,446.56 789.53,442.82 789.64,440.37 789.75,440.48 789.86,443.20 789.97,447.34 790.08,451.00 790.19,452.73 790.30,451.81 790.41,448.76 790.52,444.95 790.63,442.29 790.74,442.16 790.85,444.72 790.96,448.87 791.07,452.69 791.18,454.64 791.29,453.91 791.40,450.94 791.51,447.08 791.62,444.22 791.73,443.84 791.84,446.19 791.95,450.31 792.06,454.20 792.17,456.35 792.28,455.88 792.39,453.11 792.50,449.32 792.61,446.31 792.72,445.69 792.83,447.84 792.94,451.87 793.05,455.78 793.16,458.09 793.27,457.88 793.38,455.34 793.49,451.66 793.60,448.57 793.71,447.74 793.82,449.64 793.93,453.47 794.04,457.36 794.15,459.81 794.26,459.82 794.37,457.51 794.48,453.98 794.59,450.86 794.70,449.83 794.81,451.43 794.92,454.99 795.03,458.83 795.14,461.38 795.25,461.62 795.36,459.51 795.47,456.09 795.58,452.91 795.69,451.64 795.80,452.94 795.91,456.28 796.02,460.13 796.13,462.85 796.24,463.30 796.35,461.32 796.46,457.87 796.57,454.52 796.68,452.98 796.79,454.01 796.90,457.22 797.01,461.19 797.12,464.17 797.23,464.86 797.34,462.98 797.45,459.41 797.56,455.84 797.67,453.98 797.78,454.78 797.89,457.95 798.00,462.08 798.11,465.32 798.22,466.24 798.33,464.46 798.44,460.85 798.55,457.00 798.66,454.82 798.77,455.39 798.88,458.50 798.99,462.72 799.10,466.09 799.21,467.22 799.32,465.63 799.43,462.10 799.54,458.10 799.65,455.66 799.76,455.98 799.87,458.93 799.98,463.11 800.09,466.55 800.20,467.86 800.31,466.51 800.42,463.14 800.53,459.15 800.64,456.53 800.75,456.57 800.86,459.29 800.97,463.42 801.08,466.98 801.19,468.54 801.30,467.42 801.41,464.15 801.52,460.09 801.63,457.20 801.74,456.94 801.85,459.47 801.96,463.65 802.07,467.41 802.18,469.25 802.29,468.32 802.40,465.04 802.51,460.78 802.62,457.55 802.73,456.97 802.84,459.35 802.95,463.60 803.06,467.56 803.17,469.64 803.28,468.88 803.39,465.61 803.50,461.22 803.61,457.73 803.72,456.86 803.83,459.00 803.94,463.14 804.05,467.19 804.16,469.45 804.27,468.89 804.38,465.78 804.49,461.46 804.60,457.86 804.71,456.74 804.82,458.58 804.93,462.49 805.04,466.45 805.15,468.80 805.26,468.48 805.37,465.66 805.48,461.56 805.59,457.94 805.70,456.61 805.81,458.13 805.92,461.76 806.03,465.61 806.14,468.03 806.25,467.97 806.36,465.46 806.47,461.58 806.58,457.96 806.69,456.43 806.80,457.64 806.91,461.01 807.02,464.82 807.13,467.40 807.24,467.60 807.35,465.29 807.46,461.46 807.57,457.78 807.68,456.02 807.79,456.95 807.90,460.10 808.01,464.02 808.12,466.92 808.23,467.40 808.34,465.17 808.45,461.18 808.56,457.45 808.67,455.49 808.78,456.16 808.89,459.11 809.00,463.15 809.11,466.45 809.22,467.22 809.33,465.05 809.44,460.86 809.55,457.07 809.66,454.92 809.77,455.34 809.88,458.09 809.99,462.16 810.10,465.72 810.21,466.76 810.32,464.75 810.43,460.59 810.54,456.59 810.65,454.15 810.76,454.30 810.87,456.96 810.98,461.02 811.09,464.71 811.20,465.98 811.31,464.23 811.42,460.21 811.53,455.98 811.64,453.24 811.75,453.15 811.86,455.73 811.97,459.80 812.08,463.55 812.19,465.04 812.30,463.57 812.41,459.78 812.52,455.49 812.63,452.56 812.74,452.24 812.85,454.63 812.96,458.61 813.07,462.42 813.18,464.15 813.29,462.98 813.40,459.39 813.51,455.14 813.62,452.12 813.73,451.57 813.84,453.70 813.95,457.51 814.06,461.48 814.17,463.49 814.28,462.59 814.39,459.15 814.50,454.88 814.61,451.73 814.72,450.93 814.83,452.85 814.94,456.57 815.05,460.69 815.16,462.99 815.27,462.36 815.38,459.08 815.49,454.74 815.60,451.35 815.71,450.28 815.82,452.02 815.93,455.78 816.04,459.98 816.15,462.51 816.26,462.15 816.37,459.05 816.48,454.66 816.59,451.02 816.70,449.69 816.81,451.26 816.92,454.98 817.03,459.26 817.14,462.01 817.25,461.92 817.36,459.02 817.47,454.67 817.58,450.94 817.69,449.40 817.80,450.72 817.91,454.27 818.02,458.56 818.13,461.52 818.24,461.72 818.35,459.05 818.46,454.76 818.57,450.97 818.68,449.19 818.79,450.25 818.90,453.64 819.01,457.95 819.12,461.13 819.23,461.62 819.34,459.18 819.45,454.93 819.56,450.92 819.67,448.84 819.78,449.67 819.89,453.05 820.00,457.45 820.11,460.82 820.22,461.58 820.33,459.40 820.44,455.27 820.55,451.02 820.66,448.66 820.77,449.29 820.88,452.62 820.99,457.08 821.10,460.59 821.21,461.63 821.32,459.73 821.43,455.76 821.54,451.49 821.65,448.98 821.76,449.36 821.87,452.46 821.98,456.86 822.09,460.59 822.20,461.95 822.31,460.29 822.42,456.38 822.53,452.17 822.64,449.54 822.75,449.65 822.86,452.46 822.97,456.75 823.08,460.75 823.19,462.41 823.30,460.97 823.41,457.09 823.52,452.85 823.63,450.07 823.74,449.92 823.85,452.48 823.96,456.64 824.07,460.74 824.18,462.61 824.29,461.42 824.40,457.77 824.51,453.55 824.62,450.64 824.73,450.24 824.84,452.54 824.95,456.53 825.06,460.56 825.17,462.58 825.28,461.71 825.39,458.38 825.50,454.22 825.61,451.12 825.72,450.44 825.83,452.52 825.94,456.43 826.05,460.41 826.16,462.59 826.27,462.00 826.38,458.94 826.49,454.79 826.60,451.43 826.71,450.47 826.82,452.37 826.93,456.29 827.04,460.28 827.15,462.63 827.26,462.31 827.37,459.49 827.48,455.40 827.59,451.88 827.70,450.69 827.81,452.38 827.92,456.18 828.03,460.23 828.14,462.79 828.25,462.75 828.36,460.12 828.47,456.10 828.58,452.54 828.69,451.14 828.80,452.55 828.91,456.13 829.02,460.26 829.13,463.09 829.24,463.31 829.35,460.81 829.46,456.77 829.57,453.13 829.68,451.49 829.79,452.63 829.90,456.04 830.01,460.26 830.12,463.34 830.23,463.82 830.34,461.48 830.45,457.40 830.56,453.58 830.67,451.68 830.78,452.57 830.89,455.88 831.00,460.17 831.11,463.46 831.22,464.19 831.33,462.03 831.44,457.98 831.55,454.05 831.66,451.93 831.77,452.58 831.88,455.70 831.99,459.95 832.10,463.40 832.21,464.37 832.32,462.43 832.43,458.48 832.54,454.51 832.65,452.20 832.76,452.57 832.87,455.45 832.98,459.58 833.09,463.10 833.20,464.29 833.31,462.60 833.42,458.84 833.53,454.83 833.64,452.30 833.75,452.40 833.86,455.08 833.97,459.12 834.08,462.65 834.19,464.03 834.30,462.63 834.41,459.11 834.52,455.05 834.63,452.30 834.74,452.15 834.85,454.65 834.96,458.64 835.07,462.25 835.18,463.87 835.29,462.74 835.40,459.37 835.51,455.26 835.62,452.30 835.73,451.88 835.84,454.19 835.95,458.16 836.06,461.94 836.17,463.82 836.28,462.92 836.39,459.64 836.50,455.45 836.61,452.25 836.72,451.56 836.83,453.69 836.94,457.67 837.05,461.58 837.16,463.69 837.27,463.03 837.38,459.90 837.49,455.65 837.60,452.22 837.71,451.25 837.82,453.21 837.93,457.19 838.04,461.19 838.15,463.51 838.26,463.11 838.37,460.17 838.48,455.96 838.59,452.39 838.70,451.20 838.81,452.93 838.92,456.77 839.03,460.82 839.14,463.33 839.25,463.19 839.36,460.46 839.47,456.38 839.58,452.80 839.69,451.42 839.80,452.86 839.91,456.43 840.02,460.45 840.13,463.11 840.24,463.21 840.35,460.73 840.46,456.80 840.57,453.23 840.68,451.67 840.79,452.82 840.90,456.13 841.01,460.08 841.12,462.85 841.23,463.20 841.34,460.97 841.45,457.20 841.56,453.59 841.67,451.83 841.78,452.71 841.89,455.83 842.00,459.74 842.11,462.63 842.22,463.21 842.33,461.23 842.44,457.60 842.55,453.87 842.66,451.85 842.77,452.48 842.88,455.49 842.99,459.44 843.10,462.49 843.21,463.33 843.32,461.56 843.43,457.99 843.54,454.07 843.65,451.76 843.76,452.16 843.87,455.10 843.98,459.17 844.09,462.45 844.20,463.56 844.31,461.97 844.42,458.40 844.53,454.30 844.64,451.70 844.75,451.86 844.86,454.70 844.97,458.89 845.08,462.43 845.19,463.81 845.30,462.40 845.41,458.82 845.52,454.62 845.63,451.80 845.74,451.70 845.85,454.38 845.96,458.56 846.07,462.28 846.18,463.92 846.29,462.71 846.40,459.23 846.51,455.01 846.62,452.04 846.73,451.69 846.84,454.12 846.95,458.20 847.06,462.00 847.17,463.86 847.28,462.90 847.39,459.59 847.50,455.40 847.61,452.26 847.72,451.64 847.83,453.83 847.94,457.81 848.05,461.71 848.16,463.80 848.27,463.10 848.38,459.94 848.49,455.73 848.60,452.41 848.71,451.53 848.82,453.49 848.93,457.39 849.04,461.44 849.15,463.80 849.26,463.35 849.37,460.30 849.48,456.05 849.59,452.59 849.70,451.46 849.81,453.18 849.92,456.95 850.03,461.14 850.14,463.76 850.25,463.57 850.36,460.64 850.47,456.36 850.58,452.75 850.69,451.35 850.80,452.82 850.91,456.48 851.02,460.74 851.13,463.57 851.24,463.63 851.35,460.90 851.46,456.63 851.57,452.80 851.68,451.11 851.79,452.35 851.90,455.97 852.01,460.27 852.12,463.27 852.23,463.59 852.34,461.09 852.45,456.91 852.56,452.89 852.67,450.94 852.78,451.96 852.89,455.47 853.00,459.79 853.11,462.95 853.22,463.53 853.33,461.27 853.44,457.20 853.55,453.13 853.66,450.98 853.77,451.73 853.88,455.02 853.99,459.29 854.10,462.57 854.21,463.40 854.32,461.40 854.43,457.49 854.54,453.42 854.65,451.10 854.76,451.58 854.87,454.62 854.98,458.79 855.09,462.17 855.20,463.23 855.31,461.50 855.42,457.76 855.53,453.72 855.64,451.26 855.75,451.47 855.86,454.25 855.97,458.30 856.08,461.77 856.19,463.06 856.30,461.58 856.41,458.02 856.52,454.04 856.63,451.44 856.74,451.40 856.85,453.92 856.96,457.83 857.07,461.34 857.18,462.83 857.29,461.62 857.40,458.27 857.51,454.32 857.62,451.56 857.73,451.26 857.84,453.56 857.95,457.39 858.06,460.95 858.17,462.64 858.28,461.70 858.39,458.55 858.50,454.58 858.61,451.62 858.72,451.08 858.83,453.19 858.94,456.99 859.05,460.64 859.16,462.56 859.27,461.85 859.38,458.86 859.49,454.88 859.60,451.76 859.71,450.97 859.82,452.88 859.93,456.62 860.04,460.36 860.15,462.48 860.26,462.01 860.37,459.18 860.48,455.24 860.59,451.96 860.70,450.94 860.81,452.63 860.92,456.26 861.03,460.07 861.14,462.38 861.25,462.17 861.36,459.51 861.47,455.61 861.58,452.21 861.69,450.95 861.80,452.41 861.91,455.92 862.02,459.80 862.13,462.33 862.24,462.37 862.35,459.88 862.46,456.00 862.57,452.48 862.68,450.98 862.79,452.20 862.90,455.59 863.01,459.56 863.12,462.32 863.23,462.60 863.34,460.27 863.45,456.39 863.56,452.74 863.67,451.01 863.78,452.00 863.89,455.27 864.00,459.28 864.11,462.20 864.22,462.71 864.33,460.58 864.44,456.81 864.55,453.07 864.66,451.14 864.77,451.90 864.88,454.99 864.99,458.94 865.10,461.94 865.21,462.66 865.32,460.80 865.43,457.23 865.54,453.49 865.65,451.40 865.76,451.91 865.87,454.77 865.98,458.63 866.09,461.72 866.20,462.67 866.31,461.07 866.42,457.64 866.53,453.94 866.64,451.70 866.75,451.96 866.86,454.59 866.97,458.39 867.08,461.64 867.19,462.85 867.30,461.46 867.41,458.08 867.50,458.08"/>
<polyline stroke="#D95319" stroke-linejoin="miter" points="125.50,401.50 600.38,401.50 600.38,345.50 748.78,345.50 748.78,457.50 867.50,457.50"/>
</g>
</g>
<g id="txt">
<text transform="translate(125.5,256.9) scale(0.925,1)" text-anchor="middle" class="tk">0</text>
<text transform="translate(273.9,256.9) scale(0.925,1)" text-anchor="middle" class="tk">0.5</text>
<text transform="translate(422.3,256.9) scale(0.925,1)" text-anchor="middle" class="tk">1</text>
<text transform="translate(570.7,256.9) scale(0.925,1)" text-anchor="middle" class="tk">1.5</text>
<text transform="translate(719.1,256.9) scale(0.925,1)" text-anchor="middle" class="tk">2</text>
<text transform="translate(867.5,256.9) scale(0.925,1)" text-anchor="middle" class="tk">2.5</text>
<text transform="translate(119.2,245.4) scale(0.925,1)" text-anchor="end" class="tk">0</text>
<text transform="translate(119.2,196.4) scale(0.925,1)" text-anchor="end" class="tk">500</text>
<text transform="translate(119.2,147.4) scale(0.925,1)" text-anchor="end" class="tk">1000</text>
<text transform="translate(119.2,98.4) scale(0.925,1)" text-anchor="end" class="tk">1500</text>
<text transform="translate(119.2,49.4) scale(0.925,1)" text-anchor="end" class="tk">2000</text>
<text transform="translate(497.5,36.8) rotate(0.03) scale(1,1.07)" text-anchor="middle" class="ti" style="letter-spacing:0.16px">Rotor Speed</text>
<text transform="translate(497.7,274.6) rotate(0.03) scale(1,1.05)" text-anchor="middle" class="lb" style="letter-spacing:0.08px">Time (s)</text>
<text transform="translate(83.2,140.9) rotate(-90) scale(1,1.05)" text-anchor="middle" class="lb yl">Speed (rpm)</text>
<text transform="translate(125.5,530.9) scale(0.925,1)" text-anchor="middle" class="tk">0</text>
<text transform="translate(273.9,530.9) scale(0.925,1)" text-anchor="middle" class="tk">0.5</text>
<text transform="translate(422.3,530.9) scale(0.925,1)" text-anchor="middle" class="tk">1</text>
<text transform="translate(570.7,530.9) scale(0.925,1)" text-anchor="middle" class="tk">1.5</text>
<text transform="translate(719.1,530.9) scale(0.925,1)" text-anchor="middle" class="tk">2</text>
<text transform="translate(867.5,530.9) scale(0.925,1)" text-anchor="middle" class="tk">2.5</text>
<text transform="translate(119.2,519.4) scale(0.925,1)" text-anchor="end" class="tk">-2</text>
<text transform="translate(119.2,491.4) scale(0.925,1)" text-anchor="end" class="tk">-1.5</text>
<text transform="translate(119.2,463.4) scale(0.925,1)" text-anchor="end" class="tk">-1</text>
<text transform="translate(119.2,435.4) scale(0.925,1)" text-anchor="end" class="tk">-0.5</text>
<text transform="translate(119.2,406.4) scale(0.925,1)" text-anchor="end" class="tk">0</text>
<text transform="translate(119.2,378.4) scale(0.925,1)" text-anchor="end" class="tk">0.5</text>
<text transform="translate(119.2,350.4) scale(0.925,1)" text-anchor="end" class="tk">1</text>
<text transform="translate(119.2,322.4) scale(0.925,1)" text-anchor="end" class="tk">1.5</text>
<text transform="translate(497.7,310.8) rotate(0.03) scale(1,1.07)" text-anchor="middle" class="ti" style="letter-spacing:-0.2px">Torque</text>
<text transform="translate(497.7,548.6) rotate(0.03) scale(1,1.05)" text-anchor="middle" class="lb" style="letter-spacing:0.08px">Time (s)</text>
<text transform="translate(90.5,414.9) rotate(-90) scale(1,1.05)" text-anchor="middle" class="lb yl">Torque (Nm)</text>
</g>
<rect x="740.5" y="165.5" width="106" height="31" fill="#fff" stroke="#262626" stroke-width="1"/>
<line x1="744.0" y1="173.9" x2="784.0" y2="173.9" stroke="#0072BD" stroke-width="1.4"/>
<text x="787.5" y="177.8" class="lg">Measured</text>
<line x1="744.0" y1="188.0" x2="784.0" y2="188.0" stroke="#D95319" stroke-width="1.4"/>
<text x="787.5" y="191.9" class="lg">Reference</text>
<rect x="741.5" y="320.5" width="104" height="32" fill="#fff" stroke="#262626" stroke-width="1"/>
<line x1="745.0" y1="329.0" x2="785.0" y2="329.0" stroke="#0072BD" stroke-width="1.4"/>
<text x="788.5" y="332.9" class="lg">Measured</text>
<line x1="745.0" y1="344.0" x2="785.0" y2="344.0" stroke="#D95319" stroke-width="1.4"/>
<text x="788.5" y="347.9" class="lg">Load</text>
</svg>
</body></html>
